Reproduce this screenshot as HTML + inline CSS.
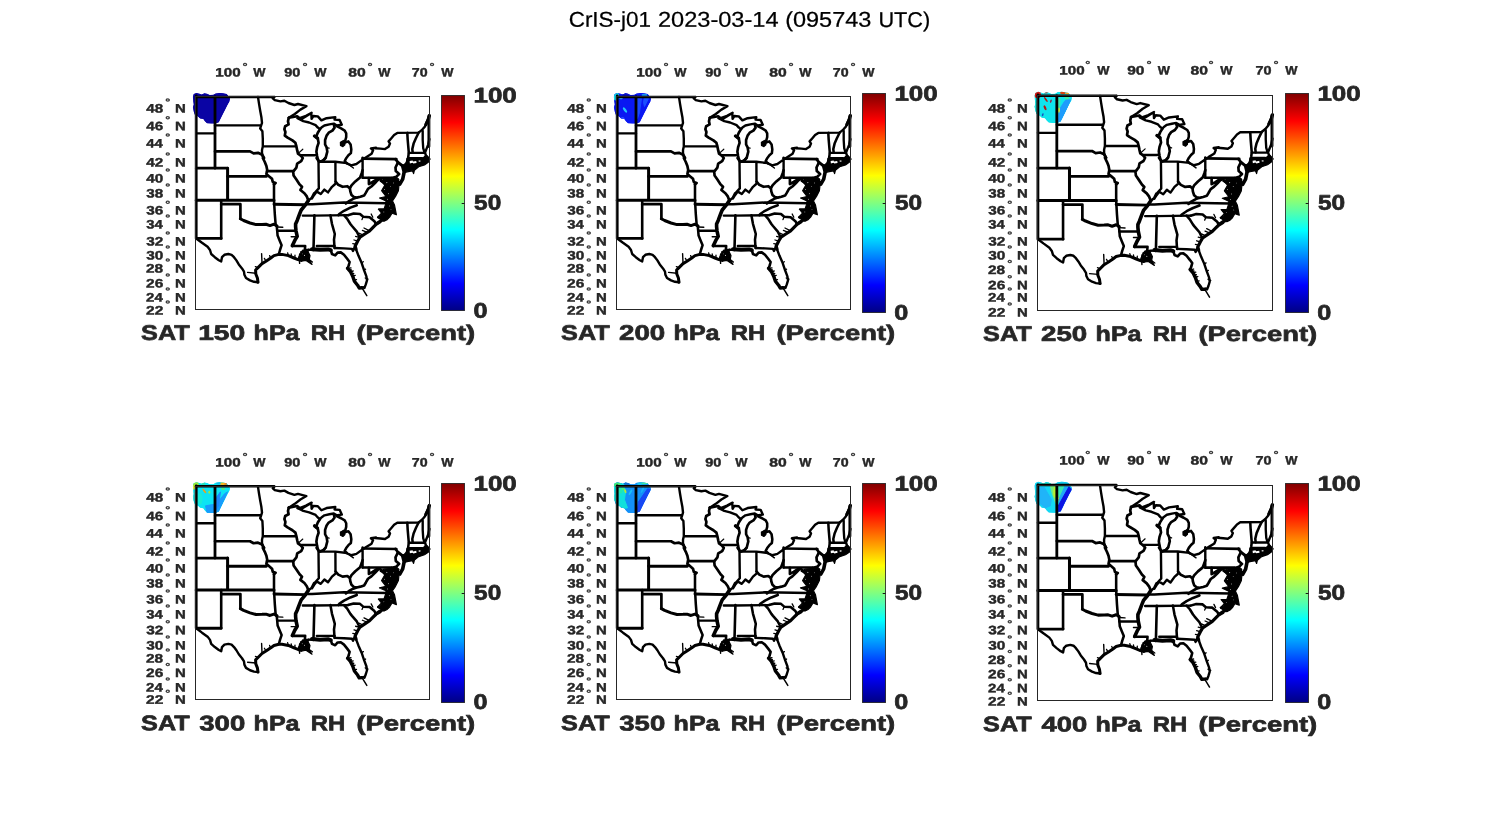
<!DOCTYPE html><html><head><meta charset="utf-8"><title>CrIS-j01 RH</title>
<style>html,body{margin:0;padding:0;background:#fff}svg{display:block;will-change:transform}text{font-family:"Liberation Sans",sans-serif;text-rendering:geometricPrecision}</style></head><body>
<svg width="1500" height="825" viewBox="0 0 1500 825">
<defs>
<filter id="gray" filterUnits="userSpaceOnUse" x="0" y="0" width="1500" height="825" color-interpolation-filters="sRGB"><feOffset dx="0" dy="0"/></filter>
<linearGradient id="jet" x1="0" y1="0" x2="0" y2="1"><stop offset="0" stop-color="#800000"/><stop offset="0.125" stop-color="#ff0000"/><stop offset="0.375" stop-color="#ffff00"/><stop offset="0.5" stop-color="#80ff80"/><stop offset="0.625" stop-color="#00ffff"/><stop offset="0.875" stop-color="#0000ff"/><stop offset="1" stop-color="#000083"/></linearGradient>
<clipPath id="bc"><path d="M192.9 96.7 L193.7 94.0 L196.4 92.9 L199.6 93.7 L201.7 94.5 L204.4 93.2 L207.0 93.7 L209.7 95.0 L213.4 94.8 L215.6 93.4 L219.8 92.9 L223.0 93.2 L226.8 94.0 L230.0 98.8 L229.4 101.4 L227.3 105.2 L225.2 109.4 L223.0 113.7 L220.9 118.0 L218.8 122.2 L215.6 123.6 L211.3 123.6 L207.0 123.3 L204.9 121.2 L203.3 119.0 L200.1 118.5 L198.0 116.4 L194.8 114.8 L193.7 111.6 L192.9 107.3 L193.7 104.6 L193.2 100.9Z" stroke="#000" stroke-width="1.6"/></clipPath>
<g id="map" fill="none" stroke="#000" stroke-linejoin="round" stroke-linecap="round">
<path stroke-width="1.2" d="M298.0 153.6 L302.8 149.2"/>
<path stroke-width="1.3" d="M326.6 147.6 L329.1 148.2 M369.6 230.8 L364.0 228.0 M367.2 232.4 L362.4 230.4 M363.2 235.2 L358.8 233.2 M360.0 237.6 L355.6 236.4 M358.0 241.2 L354.0 240.0 M356.4 244.4 L352.8 243.6 M348.0 268.4 L351.0 267.9 M350.0 271.8 L353.2 271.0 M352.0 276.2 L355.2 275.3 M353.8 280.2 L356.5 279.6 M349.0 270.0 L351.4 269.8 M351.2 274.0 L353.8 273.4 M361.6 262.8 L363.4 261.8 M364.0 270.0 L365.6 269.2 M365.2 278.0 L368.0 279.2 M288.4 255.6 L287.6 252.8 M291.6 257.0 L291.2 254.0 M294.8 258.4 L295.0 255.2 M298.0 259.6 L299.0 256.6 M266.0 261.2 L264.4 258.4 M270.8 258.0 L269.6 255.6 M258.0 267.6 L255.4 266.6 M304.4 254.0 L300.8 251.8 M307.6 252.4 L308.6 249.2 M309.2 259.6 L312.4 262.0 M381.6 213.2 L377.6 217.2 M384.0 209.2 L378.8 209.2 M380.8 218.8 L377.8 217.6 M372.8 217.2 L371.2 214.0 M363.2 216.8 L362.0 219.6"/>
<path stroke-width="1.4" d="M346.9 163.3 L353.4 168.0 M255.8 273.2 L247.6 272.4 M262.0 262.8 L261.6 253.6 M276.8 227.0 L282.8 227.3 M297.2 236.8 L291.2 236.8 M299.3 258.6 L299.6 263.4"/>
<path stroke-width="1.5" d="M362.0 287.8 L366.8 295.6"/>
<path stroke-width="2.35" d="M422.7 130.9 L422.7 140.0 L423.2 148.2 L424.6 152.7 M408.8 152.9 L424.6 152.9 M302.8 215.6 L314.0 215.6 L348.0 215.2 M316.4 158.0 L318.8 161.6 L322.4 160.8 L325.6 158.0 M316.8 246.0 L334.4 246.0"/>
<path stroke-width="2.4" d="M196.2 133.4 L215.0 133.4 M215.0 125.4 L261.0 125.4 M258.0 97.0 L259.0 103.6 L260.2 110.8 L261.4 117.2 L262.0 122.8 L261.0 126.0 L260.2 128.4 L262.4 131.2 L262.8 138.8 L262.8 146.4 L262.0 150.0 L262.0 153.2 L263.2 156.4 L264.0 158.0 M262.8 146.4 L295.4 146.4 M274.2 97.0 L272.8 98.4 L274.8 100.2 L280.4 101.4 L284.4 100.8 L288.4 103.0 L294.4 105.0 L298.0 104.0 L306.4 106.2 L300.4 109.6 L294.8 114.0 L288.8 117.8 M299.6 118.2 L306.0 115.8 L311.6 112.8 M300.8 155.2 L314.0 155.2 L316.7 155.1 M300.4 119.6 L305.4 116.7 L311.3 113.1 L311.6 118.9 L313.4 116.0 L317.8 116.4 L321.4 120.4 L326.6 118.2 L335.3 117.1 L334.6 119.6 L339.6 120.0 L341.8 124.7 L336.7 125.5 L333.8 123.6 L329.4 124.4 L324.4 125.5 L321.4 127.6 L320.0 129.1 M297.4 118.2 L300.4 119.6 L303.3 121.1 L309.1 122.5 L315.6 125.1 L317.8 127.6 L320.0 129.1 M318.5 161.8 L318.8 188.4 L315.2 192.4 L312.0 198.4 M319.3 161.8 L335.3 161.8 L346.9 163.1 M335.4 162.0 L335.5 182.0 M346.9 163.3 L351.3 165.4 L356.4 164.0 L361.4 160.4 L365.8 157.4 L371.6 153.8 L373.1 150.2 L370.9 148.4 L376.0 147.6 M362.6 157.6 L362.6 177.7 M375.0 148.2 L380.4 148.6 L385.0 149.1 L388.6 146.8 L390.0 143.6 L388.6 141.4 L391.4 138.2 L394.1 135.0 L397.3 132.9 L418.6 132.6 L422.3 129.6 L425.0 126.4 L426.8 121.8 L429.4 115.5 M429.4 139.1 L428.2 144.6 L426.4 149.1 L425.0 152.7 L425.9 155.4 L429.4 159.1 M314.0 193.2 L311.6 198.0 L308.4 200.4 M312.0 198.4 L314.0 195.2 L316.8 191.6 L320.8 194.0 L324.4 189.6 L328.0 192.4 L332.0 186.8 L335.2 184.0 M197.2 239.2 L202.0 242.8 L207.6 246.8 L210.0 250.0 L211.2 254.0 L214.8 257.2 L218.8 260.2 L221.2 261.4 L222.0 257.2 L224.4 254.8 L228.4 254.0 L231.6 254.8 L234.0 257.2 L236.4 260.4 L238.8 264.4 L242.0 268.4 L244.0 271.6 L244.4 274.8 L246.0 278.0 L250.0 280.4 L254.0 281.8 L258.0 282.2 M277.2 230.8 L295.6 230.8 M306.0 250.0 L314.0 249.6 M334.4 248.0 L344.0 248.4 L352.0 248.9 L353.0 251.0 L355.2 246.0 M356.0 249.2 L358.4 255.6 L361.6 262.8 L364.0 270.0 L366.4 276.4 L367.0 280.4 L365.8 284.4 L364.4 288.0 L363.2 287.2"/>
<path stroke-width="2.55" d="M336.7 126.2 L341.1 128.4 L344.7 130.6 L346.2 133.4 L346.2 137.1 L345.4 140.0 L342.6 142.2 L342.6 144.4 L345.4 142.2 L348.4 141.4 L350.6 144.4 L351.3 149.4 L350.9 153.1 L348.4 155.3 L346.2 158.2 L344.7 161.1 L346.9 163.3 M407.3 132.9 L407.7 140.0 L408.4 148.2 L408.8 152.7 L408.2 157.3 L407.3 160.9 L406.4 164.6 L405.0 168.2 M418.6 132.7 L415.9 138.2 L413.6 143.6 L412.3 149.1 L412.7 152.7 M362.6 177.7 L391.4 177.7 M306.0 204.2 L312.0 204.2 L344.0 202.5 L387.2 203.2 M274.0 183.2 L274.0 200.2 L274.8 214.0 L275.6 224.0 L276.8 226.8 L277.2 230.8 L277.6 235.6 L279.6 240.4 L281.6 245.2 L280.0 250.0 L278.8 254.4 M356.8 205.2 L350.4 207.6 L344.0 210.8 L339.2 214.0 L338.4 215.2 M348.0 215.2 L353.6 213.6 L360.0 214.0 L363.2 216.8 L369.6 217.2 L374.4 221.2 L376.0 224.0 M344.0 215.2 L347.2 218.8 L350.4 224.0 L352.0 226.0 L356.8 231.6 L359.2 236.4 M330.4 215.2 L332.0 224.0 L332.8 226.8 L334.8 234.0 L334.0 239.6 L334.4 246.0 L334.8 248.0 M292.0 246.0 L305.2 246.0 L304.8 250.0"/>
<path stroke-width="2.6" d="M288.8 117.8 L297.2 116.2 L299.6 118.2 M362.5 158.6 L396.4 159.1 M221.2 200.2 L221.2 238.4 M314.4 215.3 L313.6 246.0 L313.2 250.0 M330.8 250.2 L332.0 254.0 L335.2 255.4 L337.6 252.6 L340.8 252.4 L344.0 254.8 L347.2 258.8 L349.6 262.0 L348.8 265.2 L347.6 268.4"/>
<path stroke-width="2.65" d="M320.0 129.1 L317.8 132.7 L316.0 137.1 L317.8 138.6 L318.6 142.9 L317.1 147.3 L316.4 151.6 L317.1 156.0 L317.8 158.9 L319.3 161.8 M319.3 161.8 L323.6 160.4 L325.8 157.4 L327.3 151.6 L326.6 147.3 L325.1 144.4 L325.1 140.0 L326.6 135.6 L328.7 132.7 L332.4 130.6 L334.6 127.6 L333.8 124.7 M362.6 170.2 L361.7 173.2 L360.1 177.4 L355.3 181.4 L351.5 185.3 L349.9 188.4 M335.6 181.7 L338.3 184.8 L342.6 186.8 L347.4 186.2 L349.9 188.4 M349.9 188.4 L350.3 191.4 L351.5 195.0 L353.9 197.1 L356.8 197.6 M356.8 197.6 L360.4 196.8 L364.1 195.6 L365.9 192.6 L368.0 188.9 L371.4 186.5 L375.0 183.0 L377.4 180.4 L379.6 178.8 M368.9 178.0 L368.9 184.1 L372.6 182.0 L376.8 179.4 L379.6 178.8 L382.9 182.0 L385.9 185.3 M356.8 197.6 L353.2 198.8 L349.1 201.1 L345.9 203.5"/>
<path stroke-width="2.7" d="M215.0 151.4 L250.0 151.4 L253.6 153.4 L258.0 152.8 L261.6 154.4 L264.0 158.0 L262.8 158.0 L264.8 162.0 L266.4 166.0 L267.2 170.0 L266.4 174.0 L269.2 176.4 L272.0 178.8 L272.8 182.0 L275.6 183.0 L274.0 184.4 M288.8 117.8 L288.0 121.2 L288.6 124.4 L285.2 126.2 L284.4 129.2 L285.4 132.0 L284.8 135.6 L287.6 137.6 L292.4 140.4 L295.4 142.8 L296.4 146.4 L297.2 150.4 L298.0 153.6 L300.8 155.6 L302.8 158.0 L301.2 161.2 L297.2 163.6 L296.4 167.6 L293.2 171.6 L293.6 175.6 L296.4 179.6 L299.6 184.4 L302.0 186.8 L300.4 190.0 L304.4 193.2 L306.8 196.4 L308.4 200.4 M395.5 159.1 L398.0 162.4 L395.5 167.5 L395.8 171.1 L399.1 174.0 L396.2 176.9 L391.8 178.0 M196.2 168.2 L227.6 168.2 M221.2 204.2 L240.4 204.2 L240.4 218.8"/>
<path stroke-width="2.8" d="M196.2 96.0 L196.2 238.4 M215.0 97.0 L215.0 168.2 M267.2 171.2 L293.2 171.2 M196.2 238.4 L221.2 238.4"/>
<path stroke-width="2.9" d="M428.9 116.0 L428.9 146.5 M227.6 176.4 L266.4 176.4 M274.0 204.2 L305.6 204.8"/>
<path stroke-width="3.0" d="M408.2 158.6 L422.3 158.6 M398.0 162.4 L402.7 166.0 M227.6 168.2 L227.6 200.2 M196.2 200.2 L274.0 200.2 M240.4 218.8 L243.6 220.5 L250.0 223.0 L256.0 224.6 L262.0 224.5 L266.0 224.3 L270.0 225.6 L274.0 224.2 L277.0 226.0 M384.0 219.6 L380.0 221.2 L376.0 224.0 M258.0 282.2 L257.4 278.0 L255.8 274.0 L255.6 270.0 L258.0 267.6 L262.0 263.6 L266.0 261.2 L270.8 258.0 L274.0 255.6 L278.8 254.4 M278.8 254.4 L282.0 254.4 L288.4 255.6 L294.0 258.0 L298.0 259.6 L301.2 260.4"/>
<path stroke-width="3.2" d="M425.9 124.5 L428.2 120.0 L429.4 115.6 M380.0 222.0 L376.0 224.4 L372.8 227.6 L369.6 230.8 L364.8 234.0 L360.0 237.2 L357.6 241.2 L355.2 246.0 L356.0 249.2"/>
<path stroke-width="3.4" d="M314.6 136.0 L317.4 138.2 M347.6 268.4 L350.4 271.6 L352.8 276.4 L354.4 281.2 L357.6 285.2 L359.2 288.0 L362.0 287.8"/>
<path stroke-width="3.6" d="M308.4 200.4 L305.2 205.2 L301.2 210.0 L299.6 214.0 L297.2 220.4 L295.6 224.0 L295.6 226.8 L296.0 230.8 L297.2 236.4 L294.8 240.4 L292.4 245.6 M402.7 166.0 L404.2 171.8 L402.7 179.1 L399.8 184.2"/>
<path stroke-width="4.0" d="M312.0 249.2 L320.0 249.8 L328.0 249.4 L330.8 250.2"/>
<path fill="#000" stroke-width="1.2" d="M340.4 142.2 L342.6 141.1 L344.7 142.6 L344.9 144.7 L342.9 146.6 L340.5 145.4Z M402.7 166.0 L406.4 162.4 L407.1 158.4 L423.1 158.0 L426.0 155.1 L428.9 158.7 L428.9 161.8 L424.5 164.9 L418.7 166.8 L414.4 170.3 L413.6 173.6 L412.4 170.8 L407.1 171.8 L403.5 172.8Z M380.2 181.3 L383.8 179.3 L391.8 178.4 L396.2 177.2 L398.5 179.0 L399.8 182.0 L399.1 184.2 L398.4 190.7 L395.5 196.5 L392.5 200.9 L394.5 205.0 L396.4 214.8 L392.0 213.2 L389.6 217.2 L387.2 219.6 L384.0 221.2 L382.4 220.4 L377.6 217.2 L380.8 215.6 L381.6 213.2 L378.4 209.2 L384.0 209.2 L385.6 204.4 L386.0 200.9 L379.5 198.0 L386.0 196.5 L381.6 190.7 L385.3 184.2Z M299.6 254.0 L302.8 250.0 L307.6 250.8 L310.0 255.6 L309.2 259.6 L312.0 264.4 L306.0 260.4 L301.2 261.2 L298.8 258.0Z"/>
<path fill="#fff" stroke="none" d="M409.6 160.9 L412.6 160.5 L413.0 161.6 L416.2 160.9 L416.6 163.0 L413.4 163.6 L412.4 162.8 L409.9 163.4Z M418.6 160.6 L420.4 160.4 L420.6 161.6 L418.8 161.8Z M386.3 182.6 L386.9 182.0 L387.4 182.6 L386.9 183.2Z M384.1 189.4 L384.6 188.9 L385.1 189.4 L384.6 189.9Z M388.1 193.8 L388.6 193.3 L389.1 193.8 L388.6 194.3Z M389.9 186.3 L390.4 185.9 L390.8 186.3 L390.4 186.8Z M392.9 183.0 L393.4 182.6 L393.8 183.0 L393.4 183.4Z M387.1 199.2 L387.6 198.7 L388.1 199.2 L387.6 199.7Z M388.8 206.0 L389.3 205.5 L389.8 206.0 L389.3 206.5Z M383.4 212.0 L383.9 211.6 L384.3 212.0 L383.9 212.4Z M390.6 209.6 L391.0 209.2 L391.4 209.6 L391.0 210.0Z M399.1 180.6 L399.6 180.1 L400.1 180.6 L399.6 181.1Z M303.9 255.4 L304.5 254.8 L305.1 255.4 L304.5 256.0Z M301.8 253.9 L302.2 253.5 L302.6 253.9 L302.2 254.3Z"/>
</g></defs>
<rect width="1500" height="825" fill="#fff"/>
<g transform="matrix(1.00000 0 0 1.00000 0.00 0.00)"><g transform="translate(0 0)"><g clip-path="url(#bc)"><path d="M192.9 96.7 L193.7 94.0 L196.4 92.9 L199.6 93.7 L201.7 94.5 L204.4 93.2 L207.0 93.7 L209.7 95.0 L213.4 94.8 L215.6 93.4 L219.8 92.9 L223.0 93.2 L226.8 94.0 L230.0 98.8 L229.4 101.4 L227.3 105.2 L225.2 109.4 L223.0 113.7 L220.9 118.0 L218.8 122.2 L215.6 123.6 L211.3 123.6 L207.0 123.3 L204.9 121.2 L203.3 119.0 L200.1 118.5 L198.0 116.4 L194.8 114.8 L193.7 111.6 L192.9 107.3 L193.7 104.6 L193.2 100.9Z" fill="#0a04a4" stroke="#0a04a4" stroke-width="1.6" stroke-linejoin="round"/></g></g><use href="#map"/><path d="M196.2 96.96H274.2" stroke="#000" stroke-width="2.5" stroke-linecap="round"/></g>
<rect x="195.5" y="96.5" width="234.0" height="213.0" fill="none" stroke="#262626" stroke-width="1"/>
<rect x="441.5" y="95.5" width="23.0" height="215.0" fill="url(#jet)" stroke="#161616" stroke-opacity="0.8" stroke-width="1"/>
<path d="M461.7 203.5H464.5" stroke="#161616" stroke-width="1"/>
<g transform="matrix(1.00000 0 0 1.00000 421.00 0.00)"><g transform="translate(0 0)"><g clip-path="url(#bc)"><path d="M192.9 96.7 L193.7 94.0 L196.4 92.9 L199.6 93.7 L201.7 94.5 L204.4 93.2 L207.0 93.7 L209.7 95.0 L213.4 94.8 L215.6 93.4 L219.8 92.9 L223.0 93.2 L226.8 94.0 L230.0 98.8 L229.4 101.4 L227.3 105.2 L225.2 109.4 L223.0 113.7 L220.9 118.0 L218.8 122.2 L215.6 123.6 L211.3 123.6 L207.0 123.3 L204.9 121.2 L203.3 119.0 L200.1 118.5 L198.0 116.4 L194.8 114.8 L193.7 111.6 L192.9 107.3 L193.7 104.6 L193.2 100.9Z" fill="#0a18f2" stroke="#0a18f2" stroke-width="1.6" stroke-linejoin="round"/><ellipse cx="195.0" cy="96.0" rx="3.0" ry="4.5" fill="#12d8e8"/><ellipse cx="204.0" cy="110.0" rx="1.2" ry="3.2" fill="#22c8f8" transform="rotate(-35 204.0 110.0)"/><ellipse cx="200.0" cy="98.5" rx="1.8" ry="0.7" fill="#40b8ff"/><path d="M216.5 98.5 L220.5 98.5 L218.5 112.5 L216.5 118.5 L215.5 110.5Z" fill="#1a48ff" stroke="#1a48ff" stroke-width="1" stroke-linejoin="round"/><path d="M223.5 96.5 L227.5 98.5 L223.5 106.5 L222.5 102.5Z" fill="#1c50ff" stroke="#1c50ff" stroke-width="1" stroke-linejoin="round"/><ellipse cx="223.5" cy="95.0" rx="3" ry="1.3" fill="#1490f0"/><ellipse cx="204.5" cy="94.7" rx="3.5" ry="1.8" fill="#0a10c0"/><ellipse cx="201.5" cy="118.5" rx="2" ry="1.6" fill="#3050ff"/></g></g><use href="#map"/><path d="M196.2 96.96H274.2" stroke="#000" stroke-width="2.5" stroke-linecap="round"/></g>
<rect x="616.5" y="96.5" width="234.0" height="213.0" fill="none" stroke="#262626" stroke-width="1"/>
<rect x="862.5" y="93.5" width="23.0" height="219.0" fill="url(#jet)" stroke="#161616" stroke-opacity="0.8" stroke-width="1"/>
<path d="M882.7 203.5H885.5" stroke="#161616" stroke-width="1"/>
<g transform="matrix(1.00587 0 0 1.01260 840.56 -2.24)"><g transform="translate(0 0)"><g clip-path="url(#bc)"><path d="M192.9 96.7 L193.7 94.0 L196.4 92.9 L199.6 93.7 L201.7 94.5 L204.4 93.2 L207.0 93.7 L209.7 95.0 L213.4 94.8 L215.6 93.4 L219.8 92.9 L223.0 93.2 L226.8 94.0 L230.0 98.8 L229.4 101.4 L227.3 105.2 L225.2 109.4 L223.0 113.7 L220.9 118.0 L218.8 122.2 L215.6 123.6 L211.3 123.6 L207.0 123.3 L204.9 121.2 L203.3 119.0 L200.1 118.5 L198.0 116.4 L194.8 114.8 L193.7 111.6 L192.9 107.3 L193.7 104.6 L193.2 100.9Z" fill="#10e4ec" stroke="#10e4ec" stroke-width="1.6" stroke-linejoin="round"/><ellipse cx="196.0" cy="95.5" rx="3.2" ry="3.8" fill="#dc1410"/><ellipse cx="204.0" cy="93.5" rx="2.4" ry="1.0" fill="#b84a3a"/><ellipse cx="221.0" cy="93.9" rx="2.8" ry="1.5" fill="#d8400c"/><ellipse cx="225.5" cy="94.3" rx="1.8" ry="1.2" fill="#f8a020"/><ellipse cx="204.1" cy="100.5" rx="0.9" ry="3.0" fill="#b01c14" transform="rotate(-35 204.1 100.5)"/><ellipse cx="209.1" cy="102.1" rx="0.8" ry="1.8" fill="#8c3050" transform="rotate(20 209.1 102.1)"/><ellipse cx="203.3" cy="108.7" rx="1.1" ry="2.6" fill="#b01a10" transform="rotate(-25 203.3 108.7)"/><ellipse cx="201.0" cy="115.5" rx="0.8" ry="1.5" fill="#1c50c0" transform="rotate(20 201.0 115.5)"/><path d="M217.5 110.5 L222.0 103.5 L224.5 100.5 L228.5 101.0 L225.0 109.5 L220.5 119.5 L218.5 122.5 L216.5 122.5Z" fill="#1e9cfc" stroke="#1e9cfc" stroke-width="1" stroke-linejoin="round"/><path d="M216.0 99.5 L218.3 99.5 L217.5 111.5 L216.0 112.5Z" fill="#38e8b0" stroke="#38e8b0" stroke-width="1" stroke-linejoin="round"/><ellipse cx="217.1" cy="111.0" rx="0.8" ry="2.6" fill="#f0f020"/><ellipse cx="225.0" cy="98.9" rx="2.4" ry="1.6" fill="#40e8a0"/><ellipse cx="194.3" cy="107.5" rx="1.6" ry="6" fill="#22d8d0"/></g></g><use href="#map"/><path d="M196.2 96.76H274.2" stroke="#000" stroke-width="2.5" stroke-linecap="round"/></g>
<rect x="1037.5" y="95.5" width="235.0" height="215.0" fill="none" stroke="#262626" stroke-width="1"/>
<rect x="1285.5" y="93.5" width="23.0" height="219.0" fill="url(#jet)" stroke="#161616" stroke-opacity="0.8" stroke-width="1"/>
<path d="M1305.7 203.5H1308.5" stroke="#161616" stroke-width="1"/>
<g transform="matrix(1.00000 0 0 1.00000 0.00 389.85)"><g transform="translate(0 -0.5)"><g clip-path="url(#bc)"><path d="M192.9 96.7 L193.7 94.0 L196.4 92.9 L199.6 93.7 L201.7 94.5 L204.4 93.2 L207.0 93.7 L209.7 95.0 L213.4 94.8 L215.6 93.4 L219.8 92.9 L223.0 93.2 L226.8 94.0 L230.0 98.8 L229.4 101.4 L227.3 105.2 L225.2 109.4 L223.0 113.7 L220.9 118.0 L218.8 122.2 L215.6 123.6 L211.3 123.6 L207.0 123.3 L204.9 121.2 L203.3 119.0 L200.1 118.5 L198.0 116.4 L194.8 114.8 L193.7 111.6 L192.9 107.3 L193.7 104.6 L193.2 100.9Z" fill="#0ce4f4" stroke="#0ce4f4" stroke-width="1.6" stroke-linejoin="round"/><ellipse cx="195.7" cy="94.9" rx="3.0" ry="2.8" fill="#98e838"/><ellipse cx="193.9" cy="98.1" rx="1.2" ry="2.2" fill="#d8e830"/><ellipse cx="203.0" cy="94.3" rx="2.2" ry="1.2" fill="#30e0b0"/><ellipse cx="222.5" cy="94.3" rx="3.0" ry="1.3" fill="#f8b818"/><ellipse cx="225.7" cy="94.7" rx="1.6" ry="1.0" fill="#f08020"/><ellipse cx="218.5" cy="93.9" rx="2.4" ry="1.2" fill="#18b8e8"/><ellipse cx="204.3" cy="101.5" rx="0.9" ry="3.0" fill="#e8a020" transform="rotate(-38 204.3 101.5)"/><ellipse cx="209.3" cy="102.9" rx="1.0" ry="1.4" fill="#98ec40"/><ellipse cx="223.1" cy="99.3" rx="1.8" ry="1.2" fill="#58e870"/><path d="M205.5 116.5 L216.5 114.5 L224.5 104.5 L227.5 102.5 L219.0 122.0 L215.5 123.5 L207.0 123.3Z" fill="#189cfc" stroke="#189cfc" stroke-width="1" stroke-linejoin="round"/><path d="M216.0 108.5 L220.5 102.5 L218.5 116.5 L216.0 120.5Z" fill="#1c88fc" stroke="#1c88fc" stroke-width="1" stroke-linejoin="round"/><ellipse cx="200.0" cy="109.5" rx="2.6" ry="6" fill="#18ecd8"/><ellipse cx="194.1" cy="107.5" rx="1.4" ry="5.5" fill="#2cd8d8"/></g></g><use href="#map"/><path d="M196.2 96.36H274.2" stroke="#000" stroke-width="2.5" stroke-linecap="round"/></g>
<rect x="195.5" y="486.5" width="234.0" height="213.0" fill="none" stroke="#262626" stroke-width="1"/>
<rect x="441.5" y="483.5" width="23.0" height="219.0" fill="url(#jet)" stroke="#161616" stroke-opacity="0.8" stroke-width="1"/>
<path d="M461.7 593.5H464.5" stroke="#161616" stroke-width="1"/>
<g transform="matrix(1.00000 0 0 1.00000 421.00 389.85)"><g transform="translate(0 -0.5)"><g clip-path="url(#bc)"><path d="M192.9 96.7 L193.7 94.0 L196.4 92.9 L199.6 93.7 L201.7 94.5 L204.4 93.2 L207.0 93.7 L209.7 95.0 L213.4 94.8 L215.6 93.4 L219.8 92.9 L223.0 93.2 L226.8 94.0 L230.0 98.8 L229.4 101.4 L227.3 105.2 L225.2 109.4 L223.0 113.7 L220.9 118.0 L218.8 122.2 L215.6 123.6 L211.3 123.6 L207.0 123.3 L204.9 121.2 L203.3 119.0 L200.1 118.5 L198.0 116.4 L194.8 114.8 L193.7 111.6 L192.9 107.3 L193.7 104.6 L193.2 100.9Z" fill="#1490f8" stroke="#1490f8" stroke-width="1.6" stroke-linejoin="round"/><path d="M192.9 96.5 L194.5 93.5 L202.5 94.5 L204.5 102.5 L203.5 110.5 L206.5 118.5 L203.3 119.0 L198.0 116.4 L193.7 111.6 L192.9 104.5Z" fill="#10e0dc" stroke="#10e0dc" stroke-width="1" stroke-linejoin="round"/><ellipse cx="196.0" cy="95.1" rx="3.4" ry="2.2" fill="#40e878"/><ellipse cx="199.0" cy="101.0" rx="3.0" ry="3.2" fill="#20e8b0"/><ellipse cx="204.3" cy="101.7" rx="1.0" ry="2.2" fill="#b0e838" transform="rotate(-20 204.3 101.7)"/><ellipse cx="202.0" cy="99.5" rx="1.5" ry="1.5" fill="#48ec80"/><ellipse cx="206.0" cy="94.1" rx="3.0" ry="1.6" fill="#1070d0"/><ellipse cx="222.5" cy="93.9" rx="4.5" ry="1.1" fill="#38e8a0"/><ellipse cx="218.5" cy="94.5" rx="2.5" ry="1.2" fill="#18c8f0"/><path d="M217.5 112.5 L226.5 99.5 L229.5 100.0 L219.0 122.0 L216.0 122.5Z" fill="#1848f4" stroke="#1848f4" stroke-width="1" stroke-linejoin="round"/><ellipse cx="209.5" cy="103.0" rx="1.0" ry="3.2" fill="#18c0f8" transform="rotate(30 209.5 103.0)"/><ellipse cx="221.5" cy="100.5" rx="1.0" ry="3.5" fill="#18b0f8" transform="rotate(25 221.5 100.5)"/><ellipse cx="194.1" cy="107.5" rx="1.4" ry="5.5" fill="#20d8d0"/></g></g><use href="#map"/><path d="M196.2 96.46H274.2" stroke="#000" stroke-width="2.5" stroke-linecap="round"/></g>
<rect x="616.5" y="486.5" width="234.0" height="213.0" fill="none" stroke="#262626" stroke-width="1"/>
<rect x="862.5" y="483.5" width="23.0" height="219.0" fill="url(#jet)" stroke="#161616" stroke-opacity="0.8" stroke-width="1"/>
<path d="M882.7 593.5H885.5" stroke="#161616" stroke-width="1"/>
<g transform="matrix(1.00587 0 0 1.01260 840.56 387.71)"><g transform="translate(0 0)"><g clip-path="url(#bc)"><path d="M192.9 96.7 L193.7 94.0 L196.4 92.9 L199.6 93.7 L201.7 94.5 L204.4 93.2 L207.0 93.7 L209.7 95.0 L213.4 94.8 L215.6 93.4 L219.8 92.9 L223.0 93.2 L226.8 94.0 L230.0 98.8 L229.4 101.4 L227.3 105.2 L225.2 109.4 L223.0 113.7 L220.9 118.0 L218.8 122.2 L215.6 123.6 L211.3 123.6 L207.0 123.3 L204.9 121.2 L203.3 119.0 L200.1 118.5 L198.0 116.4 L194.8 114.8 L193.7 111.6 L192.9 107.3 L193.7 104.6 L193.2 100.9Z" fill="#14d8f4" stroke="#14d8f4" stroke-width="1.6" stroke-linejoin="round"/><path d="M198.0 98.5 L202.5 98.5 L209.5 110.5 L208.5 116.5 L203.5 118.5 L198.5 114.5Z" fill="#20b4f8" stroke="#20b4f8" stroke-width="1" stroke-linejoin="round"/><path d="M208.5 96.5 L215.5 96.5 L216.0 110.5 L214.0 114.5 L210.5 104.5Z" fill="#70ec80" stroke="#70ec80" stroke-width="1" stroke-linejoin="round"/><ellipse cx="213.0" cy="103.0" rx="1.6" ry="5.5" fill="#b4f030"/><ellipse cx="216.9" cy="109.0" rx="0.8" ry="3.2" fill="#e8f020"/><path d="M216.3 96.5 L223.5 96.5 L220.5 104.5 L217.0 108.5Z" fill="#38e8b0" stroke="#38e8b0" stroke-width="1" stroke-linejoin="round"/><path d="M223.5 96.5 L227.5 98.0 L218.5 115.5 L217.0 110.5Z" fill="#20a8f8" stroke="#20a8f8" stroke-width="1" stroke-linejoin="round"/><path d="M227.0 98.0 L230.0 100.5 L219.5 122.0 L216.5 122.0 L216.5 116.5Z" fill="#0c14e4" stroke="#0c14e4" stroke-width="1" stroke-linejoin="round"/><ellipse cx="221.5" cy="93.9" rx="5" ry="1.3" fill="#14c8ec"/><ellipse cx="194.1" cy="106.5" rx="1.5" ry="6" fill="#28d0e0"/><ellipse cx="204.5" cy="94.7" rx="6" ry="1.0" fill="#20d8c0"/></g></g><use href="#map"/><path d="M196.2 96.06H274.2" stroke="#000" stroke-width="2.5" stroke-linecap="round"/></g>
<rect x="1037.5" y="485.5" width="235.0" height="215.0" fill="none" stroke="#262626" stroke-width="1"/>
<rect x="1285.5" y="483.5" width="23.0" height="219.0" fill="url(#jet)" stroke="#161616" stroke-opacity="0.8" stroke-width="1"/>
<path d="M1305.7 593.5H1308.5" stroke="#161616" stroke-width="1"/>
<g filter="url(#gray)"><text y="26.82" font-size="21.4" fill="#000" stroke="#000" stroke-width="0.25" stroke-linejoin="round" transform="rotate(0.03 750 27)"><tspan x="568.69" textLength="82.29" lengthAdjust="spacingAndGlyphs">CrIS-j01</tspan> <tspan x="657.94" textLength="120.63" lengthAdjust="spacingAndGlyphs">2023-03-14</tspan> <tspan x="785.17" textLength="86.24" lengthAdjust="spacingAndGlyphs">(095743</tspan> <tspan x="878.45" textLength="51.77" lengthAdjust="spacingAndGlyphs">UTC)</tspan></text>
<text y="102.60" font-size="21.2" font-weight="700" fill="#262626" stroke="#262626" stroke-width="0.7" stroke-linejoin="round" transform="rotate(0.03 484 103)"><tspan x="473.51" textLength="43.30" lengthAdjust="spacingAndGlyphs">100</tspan></text>
<text y="209.80" font-size="21.2" font-weight="700" fill="#262626" stroke="#262626" stroke-width="0.7" stroke-linejoin="round" transform="rotate(0.03 484 210)"><tspan x="474.10" textLength="27.15" lengthAdjust="spacingAndGlyphs">50</tspan></text>
<text y="317.70" font-size="21.2" font-weight="700" fill="#262626" stroke="#262626" stroke-width="0.7" stroke-linejoin="round" transform="rotate(0.03 484 318)"><tspan x="473.45" textLength="14.03" lengthAdjust="spacingAndGlyphs">0</tspan></text>
<text y="76.60" font-size="12.2" font-weight="700" fill="#262626" stroke="#262626" stroke-width="0.4" stroke-linejoin="round" transform="rotate(0.03 236 77)"><tspan x="215.24" textLength="25.38" lengthAdjust="spacingAndGlyphs">100</tspan><tspan x="242.47" y="70.03" textLength="5.05" lengthAdjust="spacingAndGlyphs" font-size="10.2" stroke-width="0.25">°</tspan> <tspan x="253.19" y="76.60" textLength="12.23" lengthAdjust="spacingAndGlyphs">W</tspan></text>
<text y="76.60" font-size="12.2" font-weight="700" fill="#262626" stroke="#262626" stroke-width="0.4" stroke-linejoin="round" transform="rotate(0.03 304 77)"><tspan x="284.19" textLength="16.20" lengthAdjust="spacingAndGlyphs">90</tspan><tspan x="302.47" y="70.03" textLength="5.05" lengthAdjust="spacingAndGlyphs" font-size="10.2" stroke-width="0.25">°</tspan> <tspan x="314.19" y="76.60" textLength="12.23" lengthAdjust="spacingAndGlyphs">W</tspan></text>
<text y="76.60" font-size="12.2" font-weight="700" fill="#262626" stroke="#262626" stroke-width="0.4" stroke-linejoin="round" transform="rotate(0.03 368 77)"><tspan x="348.20" textLength="17.44" lengthAdjust="spacingAndGlyphs">80</tspan><tspan x="367.47" y="70.03" textLength="5.05" lengthAdjust="spacingAndGlyphs" font-size="10.2" stroke-width="0.25">°</tspan> <tspan x="378.19" y="76.60" textLength="12.23" lengthAdjust="spacingAndGlyphs">W</tspan></text>
<text y="76.60" font-size="12.2" font-weight="700" fill="#262626" stroke="#262626" stroke-width="0.4" stroke-linejoin="round" transform="rotate(0.03 432 77)"><tspan x="411.79" textLength="15.79" lengthAdjust="spacingAndGlyphs">70</tspan><tspan x="429.47" y="70.03" textLength="5.05" lengthAdjust="spacingAndGlyphs" font-size="10.2" stroke-width="0.25">°</tspan> <tspan x="441.19" y="76.60" textLength="12.23" lengthAdjust="spacingAndGlyphs">W</tspan></text>
<text y="112.50" font-size="12.2" font-weight="700" fill="#262626" stroke="#262626" stroke-width="0.4" stroke-linejoin="round" transform="rotate(0.03 165 113)"><tspan x="146.37" textLength="16.79" lengthAdjust="spacingAndGlyphs">48</tspan><tspan x="165.37" y="105.53" textLength="5.05" lengthAdjust="spacingAndGlyphs" font-size="10.2" stroke-width="0.25">°</tspan> <tspan x="174.90" y="112.50" textLength="10.81" lengthAdjust="spacingAndGlyphs">N</tspan></text>
<text y="130.20" font-size="12.2" font-weight="700" fill="#262626" stroke="#262626" stroke-width="0.4" stroke-linejoin="round" transform="rotate(0.03 165 130)"><tspan x="146.37" textLength="16.88" lengthAdjust="spacingAndGlyphs">46</tspan><tspan x="165.37" y="123.23" textLength="5.05" lengthAdjust="spacingAndGlyphs" font-size="10.2" stroke-width="0.25">°</tspan> <tspan x="174.90" y="130.20" textLength="10.81" lengthAdjust="spacingAndGlyphs">N</tspan></text>
<text y="147.40" font-size="12.2" font-weight="700" fill="#262626" stroke="#262626" stroke-width="0.4" stroke-linejoin="round" transform="rotate(0.03 165 148)"><tspan x="146.38" textLength="16.40" lengthAdjust="spacingAndGlyphs">44</tspan><tspan x="165.37" y="140.43" textLength="5.05" lengthAdjust="spacingAndGlyphs" font-size="10.2" stroke-width="0.25">°</tspan> <tspan x="174.90" y="147.40" textLength="10.81" lengthAdjust="spacingAndGlyphs">N</tspan></text>
<text y="166.50" font-size="12.2" font-weight="700" fill="#262626" stroke="#262626" stroke-width="0.4" stroke-linejoin="round" transform="rotate(0.03 165 167)"><tspan x="146.37" textLength="16.94" lengthAdjust="spacingAndGlyphs">42</tspan><tspan x="165.37" y="159.53" textLength="5.05" lengthAdjust="spacingAndGlyphs" font-size="10.2" stroke-width="0.25">°</tspan> <tspan x="174.90" y="166.50" textLength="10.81" lengthAdjust="spacingAndGlyphs">N</tspan></text>
<text y="182.50" font-size="12.2" font-weight="700" fill="#262626" stroke="#262626" stroke-width="0.4" stroke-linejoin="round" transform="rotate(0.03 165 183)"><tspan x="146.37" textLength="16.96" lengthAdjust="spacingAndGlyphs">40</tspan><tspan x="165.37" y="175.53" textLength="5.05" lengthAdjust="spacingAndGlyphs" font-size="10.2" stroke-width="0.25">°</tspan> <tspan x="174.90" y="182.50" textLength="10.81" lengthAdjust="spacingAndGlyphs">N</tspan></text>
<text y="197.50" font-size="12.2" font-weight="700" fill="#262626" stroke="#262626" stroke-width="0.4" stroke-linejoin="round" transform="rotate(0.03 165 198)"><tspan x="146.25" textLength="16.92" lengthAdjust="spacingAndGlyphs">38</tspan><tspan x="165.37" y="190.53" textLength="5.05" lengthAdjust="spacingAndGlyphs" font-size="10.2" stroke-width="0.25">°</tspan> <tspan x="174.90" y="197.50" textLength="10.81" lengthAdjust="spacingAndGlyphs">N</tspan></text>
<text y="214.60" font-size="12.2" font-weight="700" fill="#262626" stroke="#262626" stroke-width="0.4" stroke-linejoin="round" transform="rotate(0.03 165 215)"><tspan x="146.25" textLength="17.00" lengthAdjust="spacingAndGlyphs">36</tspan><tspan x="165.37" y="207.63" textLength="5.05" lengthAdjust="spacingAndGlyphs" font-size="10.2" stroke-width="0.25">°</tspan> <tspan x="174.90" y="214.60" textLength="10.81" lengthAdjust="spacingAndGlyphs">N</tspan></text>
<text y="228.40" font-size="12.2" font-weight="700" fill="#262626" stroke="#262626" stroke-width="0.4" stroke-linejoin="round" transform="rotate(0.03 165 229)"><tspan x="146.26" textLength="16.52" lengthAdjust="spacingAndGlyphs">34</tspan><tspan x="165.37" y="221.43" textLength="5.05" lengthAdjust="spacingAndGlyphs" font-size="10.2" stroke-width="0.25">°</tspan> <tspan x="174.90" y="228.40" textLength="10.81" lengthAdjust="spacingAndGlyphs">N</tspan></text>
<text y="245.40" font-size="12.2" font-weight="700" fill="#262626" stroke="#262626" stroke-width="0.4" stroke-linejoin="round" transform="rotate(0.03 165 246)"><tspan x="146.25" textLength="17.07" lengthAdjust="spacingAndGlyphs">32</tspan><tspan x="165.37" y="238.43" textLength="5.05" lengthAdjust="spacingAndGlyphs" font-size="10.2" stroke-width="0.25">°</tspan> <tspan x="174.90" y="245.40" textLength="10.81" lengthAdjust="spacingAndGlyphs">N</tspan></text>
<text y="259.40" font-size="12.2" font-weight="700" fill="#262626" stroke="#262626" stroke-width="0.4" stroke-linejoin="round" transform="rotate(0.03 165 260)"><tspan x="146.25" textLength="17.08" lengthAdjust="spacingAndGlyphs">30</tspan><tspan x="165.37" y="252.43" textLength="5.05" lengthAdjust="spacingAndGlyphs" font-size="10.2" stroke-width="0.25">°</tspan> <tspan x="174.90" y="259.40" textLength="10.81" lengthAdjust="spacingAndGlyphs">N</tspan></text>
<text y="272.50" font-size="12.2" font-weight="700" fill="#262626" stroke="#262626" stroke-width="0.4" stroke-linejoin="round" transform="rotate(0.03 165 273)"><tspan x="146.07" textLength="17.11" lengthAdjust="spacingAndGlyphs">28</tspan><tspan x="165.37" y="265.53" textLength="5.05" lengthAdjust="spacingAndGlyphs" font-size="10.2" stroke-width="0.25">°</tspan> <tspan x="174.90" y="272.50" textLength="10.81" lengthAdjust="spacingAndGlyphs">N</tspan></text>
<text y="287.50" font-size="12.2" font-weight="700" fill="#262626" stroke="#262626" stroke-width="0.4" stroke-linejoin="round" transform="rotate(0.03 165 288)"><tspan x="146.06" textLength="17.20" lengthAdjust="spacingAndGlyphs">26</tspan><tspan x="165.37" y="280.53" textLength="5.05" lengthAdjust="spacingAndGlyphs" font-size="10.2" stroke-width="0.25">°</tspan> <tspan x="174.90" y="287.50" textLength="10.81" lengthAdjust="spacingAndGlyphs">N</tspan></text>
<text y="301.50" font-size="12.2" font-weight="700" fill="#262626" stroke="#262626" stroke-width="0.4" stroke-linejoin="round" transform="rotate(0.03 165 302)"><tspan x="146.08" textLength="16.70" lengthAdjust="spacingAndGlyphs">24</tspan><tspan x="165.37" y="294.53" textLength="5.05" lengthAdjust="spacingAndGlyphs" font-size="10.2" stroke-width="0.25">°</tspan> <tspan x="174.90" y="301.50" textLength="10.81" lengthAdjust="spacingAndGlyphs">N</tspan></text>
<text y="314.50" font-size="12.2" font-weight="700" fill="#262626" stroke="#262626" stroke-width="0.4" stroke-linejoin="round" transform="rotate(0.03 165 315)"><tspan x="146.06" textLength="17.26" lengthAdjust="spacingAndGlyphs">22</tspan><tspan x="165.37" y="307.53" textLength="5.05" lengthAdjust="spacingAndGlyphs" font-size="10.2" stroke-width="0.25">°</tspan> <tspan x="174.90" y="314.50" textLength="10.81" lengthAdjust="spacingAndGlyphs">N</tspan></text>
<text y="340.45" font-size="21.2" font-weight="700" fill="#262626" stroke="#262626" stroke-width="0.7" stroke-linejoin="round" transform="rotate(0.03 308 341)"><tspan x="141.12" textLength="48.60" lengthAdjust="spacingAndGlyphs">SAT</tspan> <tspan x="198.17" textLength="47.03" lengthAdjust="spacingAndGlyphs">150</tspan> <tspan x="253.60" textLength="45.89" lengthAdjust="spacingAndGlyphs">hPa</tspan> <tspan x="310.75" textLength="34.51" lengthAdjust="spacingAndGlyphs">RH</tspan> <tspan x="356.49" textLength="118.73" lengthAdjust="spacingAndGlyphs">(Percent)</tspan></text>
<text y="100.80" font-size="21.2" font-weight="700" fill="#262626" stroke="#262626" stroke-width="0.7" stroke-linejoin="round" transform="rotate(0.03 905 101)"><tspan x="894.41" textLength="43.30" lengthAdjust="spacingAndGlyphs">100</tspan></text>
<text y="209.80" font-size="21.2" font-weight="700" fill="#262626" stroke="#262626" stroke-width="0.7" stroke-linejoin="round" transform="rotate(0.03 905 210)"><tspan x="895.00" textLength="27.15" lengthAdjust="spacingAndGlyphs">50</tspan></text>
<text y="319.80" font-size="21.2" font-weight="700" fill="#262626" stroke="#262626" stroke-width="0.7" stroke-linejoin="round" transform="rotate(0.03 905 320)"><tspan x="894.35" textLength="14.03" lengthAdjust="spacingAndGlyphs">0</tspan></text>
<text y="76.60" font-size="12.2" font-weight="700" fill="#262626" stroke="#262626" stroke-width="0.4" stroke-linejoin="round" transform="rotate(0.03 657 77)"><tspan x="636.24" textLength="25.38" lengthAdjust="spacingAndGlyphs">100</tspan><tspan x="663.47" y="70.03" textLength="5.05" lengthAdjust="spacingAndGlyphs" font-size="10.2" stroke-width="0.25">°</tspan> <tspan x="674.19" y="76.60" textLength="12.23" lengthAdjust="spacingAndGlyphs">W</tspan></text>
<text y="76.60" font-size="12.2" font-weight="700" fill="#262626" stroke="#262626" stroke-width="0.4" stroke-linejoin="round" transform="rotate(0.03 726 77)"><tspan x="705.19" textLength="16.20" lengthAdjust="spacingAndGlyphs">90</tspan><tspan x="723.47" y="70.03" textLength="5.05" lengthAdjust="spacingAndGlyphs" font-size="10.2" stroke-width="0.25">°</tspan> <tspan x="735.19" y="76.60" textLength="12.23" lengthAdjust="spacingAndGlyphs">W</tspan></text>
<text y="76.60" font-size="12.2" font-weight="700" fill="#262626" stroke="#262626" stroke-width="0.4" stroke-linejoin="round" transform="rotate(0.03 790 77)"><tspan x="769.20" textLength="17.44" lengthAdjust="spacingAndGlyphs">80</tspan><tspan x="788.47" y="70.03" textLength="5.05" lengthAdjust="spacingAndGlyphs" font-size="10.2" stroke-width="0.25">°</tspan> <tspan x="799.19" y="76.60" textLength="12.23" lengthAdjust="spacingAndGlyphs">W</tspan></text>
<text y="76.60" font-size="12.2" font-weight="700" fill="#262626" stroke="#262626" stroke-width="0.4" stroke-linejoin="round" transform="rotate(0.03 853 77)"><tspan x="832.79" textLength="15.79" lengthAdjust="spacingAndGlyphs">70</tspan><tspan x="850.47" y="70.03" textLength="5.05" lengthAdjust="spacingAndGlyphs" font-size="10.2" stroke-width="0.25">°</tspan> <tspan x="862.19" y="76.60" textLength="12.23" lengthAdjust="spacingAndGlyphs">W</tspan></text>
<text y="112.50" font-size="12.2" font-weight="700" fill="#262626" stroke="#262626" stroke-width="0.4" stroke-linejoin="round" transform="rotate(0.03 586 113)"><tspan x="567.37" textLength="16.79" lengthAdjust="spacingAndGlyphs">48</tspan><tspan x="586.37" y="105.53" textLength="5.05" lengthAdjust="spacingAndGlyphs" font-size="10.2" stroke-width="0.25">°</tspan> <tspan x="595.90" y="112.50" textLength="10.81" lengthAdjust="spacingAndGlyphs">N</tspan></text>
<text y="130.20" font-size="12.2" font-weight="700" fill="#262626" stroke="#262626" stroke-width="0.4" stroke-linejoin="round" transform="rotate(0.03 586 130)"><tspan x="567.37" textLength="16.88" lengthAdjust="spacingAndGlyphs">46</tspan><tspan x="586.37" y="123.23" textLength="5.05" lengthAdjust="spacingAndGlyphs" font-size="10.2" stroke-width="0.25">°</tspan> <tspan x="595.90" y="130.20" textLength="10.81" lengthAdjust="spacingAndGlyphs">N</tspan></text>
<text y="147.40" font-size="12.2" font-weight="700" fill="#262626" stroke="#262626" stroke-width="0.4" stroke-linejoin="round" transform="rotate(0.03 586 148)"><tspan x="567.38" textLength="16.40" lengthAdjust="spacingAndGlyphs">44</tspan><tspan x="586.37" y="140.43" textLength="5.05" lengthAdjust="spacingAndGlyphs" font-size="10.2" stroke-width="0.25">°</tspan> <tspan x="595.90" y="147.40" textLength="10.81" lengthAdjust="spacingAndGlyphs">N</tspan></text>
<text y="166.50" font-size="12.2" font-weight="700" fill="#262626" stroke="#262626" stroke-width="0.4" stroke-linejoin="round" transform="rotate(0.03 586 167)"><tspan x="567.37" textLength="16.94" lengthAdjust="spacingAndGlyphs">42</tspan><tspan x="586.37" y="159.53" textLength="5.05" lengthAdjust="spacingAndGlyphs" font-size="10.2" stroke-width="0.25">°</tspan> <tspan x="595.90" y="166.50" textLength="10.81" lengthAdjust="spacingAndGlyphs">N</tspan></text>
<text y="182.50" font-size="12.2" font-weight="700" fill="#262626" stroke="#262626" stroke-width="0.4" stroke-linejoin="round" transform="rotate(0.03 586 183)"><tspan x="567.37" textLength="16.96" lengthAdjust="spacingAndGlyphs">40</tspan><tspan x="586.37" y="175.53" textLength="5.05" lengthAdjust="spacingAndGlyphs" font-size="10.2" stroke-width="0.25">°</tspan> <tspan x="595.90" y="182.50" textLength="10.81" lengthAdjust="spacingAndGlyphs">N</tspan></text>
<text y="197.50" font-size="12.2" font-weight="700" fill="#262626" stroke="#262626" stroke-width="0.4" stroke-linejoin="round" transform="rotate(0.03 586 198)"><tspan x="567.25" textLength="16.92" lengthAdjust="spacingAndGlyphs">38</tspan><tspan x="586.37" y="190.53" textLength="5.05" lengthAdjust="spacingAndGlyphs" font-size="10.2" stroke-width="0.25">°</tspan> <tspan x="595.90" y="197.50" textLength="10.81" lengthAdjust="spacingAndGlyphs">N</tspan></text>
<text y="214.60" font-size="12.2" font-weight="700" fill="#262626" stroke="#262626" stroke-width="0.4" stroke-linejoin="round" transform="rotate(0.03 586 215)"><tspan x="567.25" textLength="17.00" lengthAdjust="spacingAndGlyphs">36</tspan><tspan x="586.37" y="207.63" textLength="5.05" lengthAdjust="spacingAndGlyphs" font-size="10.2" stroke-width="0.25">°</tspan> <tspan x="595.90" y="214.60" textLength="10.81" lengthAdjust="spacingAndGlyphs">N</tspan></text>
<text y="228.40" font-size="12.2" font-weight="700" fill="#262626" stroke="#262626" stroke-width="0.4" stroke-linejoin="round" transform="rotate(0.03 586 229)"><tspan x="567.26" textLength="16.52" lengthAdjust="spacingAndGlyphs">34</tspan><tspan x="586.37" y="221.43" textLength="5.05" lengthAdjust="spacingAndGlyphs" font-size="10.2" stroke-width="0.25">°</tspan> <tspan x="595.90" y="228.40" textLength="10.81" lengthAdjust="spacingAndGlyphs">N</tspan></text>
<text y="245.40" font-size="12.2" font-weight="700" fill="#262626" stroke="#262626" stroke-width="0.4" stroke-linejoin="round" transform="rotate(0.03 586 246)"><tspan x="567.25" textLength="17.07" lengthAdjust="spacingAndGlyphs">32</tspan><tspan x="586.37" y="238.43" textLength="5.05" lengthAdjust="spacingAndGlyphs" font-size="10.2" stroke-width="0.25">°</tspan> <tspan x="595.90" y="245.40" textLength="10.81" lengthAdjust="spacingAndGlyphs">N</tspan></text>
<text y="259.40" font-size="12.2" font-weight="700" fill="#262626" stroke="#262626" stroke-width="0.4" stroke-linejoin="round" transform="rotate(0.03 586 260)"><tspan x="567.25" textLength="17.08" lengthAdjust="spacingAndGlyphs">30</tspan><tspan x="586.37" y="252.43" textLength="5.05" lengthAdjust="spacingAndGlyphs" font-size="10.2" stroke-width="0.25">°</tspan> <tspan x="595.90" y="259.40" textLength="10.81" lengthAdjust="spacingAndGlyphs">N</tspan></text>
<text y="272.50" font-size="12.2" font-weight="700" fill="#262626" stroke="#262626" stroke-width="0.4" stroke-linejoin="round" transform="rotate(0.03 586 273)"><tspan x="567.07" textLength="17.11" lengthAdjust="spacingAndGlyphs">28</tspan><tspan x="586.37" y="265.53" textLength="5.05" lengthAdjust="spacingAndGlyphs" font-size="10.2" stroke-width="0.25">°</tspan> <tspan x="595.90" y="272.50" textLength="10.81" lengthAdjust="spacingAndGlyphs">N</tspan></text>
<text y="287.50" font-size="12.2" font-weight="700" fill="#262626" stroke="#262626" stroke-width="0.4" stroke-linejoin="round" transform="rotate(0.03 586 288)"><tspan x="567.06" textLength="17.20" lengthAdjust="spacingAndGlyphs">26</tspan><tspan x="586.37" y="280.53" textLength="5.05" lengthAdjust="spacingAndGlyphs" font-size="10.2" stroke-width="0.25">°</tspan> <tspan x="595.90" y="287.50" textLength="10.81" lengthAdjust="spacingAndGlyphs">N</tspan></text>
<text y="301.50" font-size="12.2" font-weight="700" fill="#262626" stroke="#262626" stroke-width="0.4" stroke-linejoin="round" transform="rotate(0.03 586 302)"><tspan x="567.08" textLength="16.70" lengthAdjust="spacingAndGlyphs">24</tspan><tspan x="586.37" y="294.53" textLength="5.05" lengthAdjust="spacingAndGlyphs" font-size="10.2" stroke-width="0.25">°</tspan> <tspan x="595.90" y="301.50" textLength="10.81" lengthAdjust="spacingAndGlyphs">N</tspan></text>
<text y="314.50" font-size="12.2" font-weight="700" fill="#262626" stroke="#262626" stroke-width="0.4" stroke-linejoin="round" transform="rotate(0.03 586 315)"><tspan x="567.06" textLength="17.26" lengthAdjust="spacingAndGlyphs">22</tspan><tspan x="586.37" y="307.53" textLength="5.05" lengthAdjust="spacingAndGlyphs" font-size="10.2" stroke-width="0.25">°</tspan> <tspan x="595.90" y="314.50" textLength="10.81" lengthAdjust="spacingAndGlyphs">N</tspan></text>
<text y="340.45" font-size="21.2" font-weight="700" fill="#262626" stroke="#262626" stroke-width="0.7" stroke-linejoin="round" transform="rotate(0.03 728 341)"><tspan x="561.12" textLength="48.60" lengthAdjust="spacingAndGlyphs">SAT</tspan> <tspan x="618.99" textLength="46.20" lengthAdjust="spacingAndGlyphs">200</tspan> <tspan x="673.60" textLength="45.89" lengthAdjust="spacingAndGlyphs">hPa</tspan> <tspan x="730.75" textLength="34.51" lengthAdjust="spacingAndGlyphs">RH</tspan> <tspan x="776.49" textLength="118.73" lengthAdjust="spacingAndGlyphs">(Percent)</tspan></text>
<text y="100.80" font-size="21.2" font-weight="700" fill="#262626" stroke="#262626" stroke-width="0.7" stroke-linejoin="round" transform="rotate(0.03 1328 101)"><tspan x="1317.41" textLength="43.30" lengthAdjust="spacingAndGlyphs">100</tspan></text>
<text y="209.80" font-size="21.2" font-weight="700" fill="#262626" stroke="#262626" stroke-width="0.7" stroke-linejoin="round" transform="rotate(0.03 1328 210)"><tspan x="1318.00" textLength="27.15" lengthAdjust="spacingAndGlyphs">50</tspan></text>
<text y="319.80" font-size="21.2" font-weight="700" fill="#262626" stroke="#262626" stroke-width="0.7" stroke-linejoin="round" transform="rotate(0.03 1328 320)"><tspan x="1317.35" textLength="14.03" lengthAdjust="spacingAndGlyphs">0</tspan></text>
<text y="74.60" font-size="12.2" font-weight="700" fill="#262626" stroke="#262626" stroke-width="0.4" stroke-linejoin="round" transform="rotate(0.03 1080 75)"><tspan x="1059.24" textLength="25.38" lengthAdjust="spacingAndGlyphs">100</tspan><tspan x="1085.27" y="68.03" textLength="5.05" lengthAdjust="spacingAndGlyphs" font-size="10.2" stroke-width="0.25">°</tspan> <tspan x="1097.19" y="74.60" textLength="12.23" lengthAdjust="spacingAndGlyphs">W</tspan></text>
<text y="74.60" font-size="12.2" font-weight="700" fill="#262626" stroke="#262626" stroke-width="0.4" stroke-linejoin="round" transform="rotate(0.03 1148 75)"><tspan x="1127.16" textLength="17.28" lengthAdjust="spacingAndGlyphs">90</tspan><tspan x="1146.47" y="68.03" textLength="5.05" lengthAdjust="spacingAndGlyphs" font-size="10.2" stroke-width="0.25">°</tspan> <tspan x="1157.69" y="74.60" textLength="12.23" lengthAdjust="spacingAndGlyphs">W</tspan></text>
<text y="74.60" font-size="12.2" font-weight="700" fill="#262626" stroke="#262626" stroke-width="0.4" stroke-linejoin="round" transform="rotate(0.03 1211 75)"><tspan x="1190.50" textLength="17.44" lengthAdjust="spacingAndGlyphs">80</tspan><tspan x="1208.47" y="68.03" textLength="5.05" lengthAdjust="spacingAndGlyphs" font-size="10.2" stroke-width="0.25">°</tspan> <tspan x="1220.19" y="74.60" textLength="12.23" lengthAdjust="spacingAndGlyphs">W</tspan></text>
<text y="74.60" font-size="12.2" font-weight="700" fill="#262626" stroke="#262626" stroke-width="0.4" stroke-linejoin="round" transform="rotate(0.03 1276 75)"><tspan x="1255.58" textLength="16.01" lengthAdjust="spacingAndGlyphs">70</tspan><tspan x="1273.47" y="68.03" textLength="5.05" lengthAdjust="spacingAndGlyphs" font-size="10.2" stroke-width="0.25">°</tspan> <tspan x="1285.19" y="74.60" textLength="12.23" lengthAdjust="spacingAndGlyphs">W</tspan></text>
<text y="112.50" font-size="12.2" font-weight="700" fill="#262626" stroke="#262626" stroke-width="0.4" stroke-linejoin="round" transform="rotate(0.03 1007 113)"><tspan x="988.37" textLength="16.79" lengthAdjust="spacingAndGlyphs">48</tspan><tspan x="1007.37" y="105.53" textLength="5.05" lengthAdjust="spacingAndGlyphs" font-size="10.2" stroke-width="0.25">°</tspan> <tspan x="1016.90" y="112.50" textLength="10.81" lengthAdjust="spacingAndGlyphs">N</tspan></text>
<text y="130.20" font-size="12.2" font-weight="700" fill="#262626" stroke="#262626" stroke-width="0.4" stroke-linejoin="round" transform="rotate(0.03 1007 130)"><tspan x="988.37" textLength="16.88" lengthAdjust="spacingAndGlyphs">46</tspan><tspan x="1007.37" y="123.23" textLength="5.05" lengthAdjust="spacingAndGlyphs" font-size="10.2" stroke-width="0.25">°</tspan> <tspan x="1016.90" y="130.20" textLength="10.81" lengthAdjust="spacingAndGlyphs">N</tspan></text>
<text y="147.40" font-size="12.2" font-weight="700" fill="#262626" stroke="#262626" stroke-width="0.4" stroke-linejoin="round" transform="rotate(0.03 1007 148)"><tspan x="988.38" textLength="16.40" lengthAdjust="spacingAndGlyphs">44</tspan><tspan x="1007.37" y="140.43" textLength="5.05" lengthAdjust="spacingAndGlyphs" font-size="10.2" stroke-width="0.25">°</tspan> <tspan x="1016.90" y="147.40" textLength="10.81" lengthAdjust="spacingAndGlyphs">N</tspan></text>
<text y="166.50" font-size="12.2" font-weight="700" fill="#262626" stroke="#262626" stroke-width="0.4" stroke-linejoin="round" transform="rotate(0.03 1007 167)"><tspan x="988.37" textLength="16.94" lengthAdjust="spacingAndGlyphs">42</tspan><tspan x="1007.37" y="159.53" textLength="5.05" lengthAdjust="spacingAndGlyphs" font-size="10.2" stroke-width="0.25">°</tspan> <tspan x="1016.90" y="166.50" textLength="10.81" lengthAdjust="spacingAndGlyphs">N</tspan></text>
<text y="182.50" font-size="12.2" font-weight="700" fill="#262626" stroke="#262626" stroke-width="0.4" stroke-linejoin="round" transform="rotate(0.03 1007 183)"><tspan x="988.37" textLength="16.96" lengthAdjust="spacingAndGlyphs">40</tspan><tspan x="1007.37" y="175.53" textLength="5.05" lengthAdjust="spacingAndGlyphs" font-size="10.2" stroke-width="0.25">°</tspan> <tspan x="1016.90" y="182.50" textLength="10.81" lengthAdjust="spacingAndGlyphs">N</tspan></text>
<text y="197.50" font-size="12.2" font-weight="700" fill="#262626" stroke="#262626" stroke-width="0.4" stroke-linejoin="round" transform="rotate(0.03 1007 198)"><tspan x="988.25" textLength="16.92" lengthAdjust="spacingAndGlyphs">38</tspan><tspan x="1007.37" y="190.53" textLength="5.05" lengthAdjust="spacingAndGlyphs" font-size="10.2" stroke-width="0.25">°</tspan> <tspan x="1016.90" y="197.50" textLength="10.81" lengthAdjust="spacingAndGlyphs">N</tspan></text>
<text y="214.60" font-size="12.2" font-weight="700" fill="#262626" stroke="#262626" stroke-width="0.4" stroke-linejoin="round" transform="rotate(0.03 1007 215)"><tspan x="988.25" textLength="17.00" lengthAdjust="spacingAndGlyphs">36</tspan><tspan x="1007.37" y="207.63" textLength="5.05" lengthAdjust="spacingAndGlyphs" font-size="10.2" stroke-width="0.25">°</tspan> <tspan x="1016.90" y="214.60" textLength="10.81" lengthAdjust="spacingAndGlyphs">N</tspan></text>
<text y="228.40" font-size="12.2" font-weight="700" fill="#262626" stroke="#262626" stroke-width="0.4" stroke-linejoin="round" transform="rotate(0.03 1007 229)"><tspan x="988.26" textLength="16.52" lengthAdjust="spacingAndGlyphs">34</tspan><tspan x="1007.37" y="221.43" textLength="5.05" lengthAdjust="spacingAndGlyphs" font-size="10.2" stroke-width="0.25">°</tspan> <tspan x="1016.90" y="228.40" textLength="10.81" lengthAdjust="spacingAndGlyphs">N</tspan></text>
<text y="245.40" font-size="12.2" font-weight="700" fill="#262626" stroke="#262626" stroke-width="0.4" stroke-linejoin="round" transform="rotate(0.03 1007 246)"><tspan x="988.25" textLength="17.07" lengthAdjust="spacingAndGlyphs">32</tspan><tspan x="1007.37" y="238.43" textLength="5.05" lengthAdjust="spacingAndGlyphs" font-size="10.2" stroke-width="0.25">°</tspan> <tspan x="1016.90" y="245.40" textLength="10.81" lengthAdjust="spacingAndGlyphs">N</tspan></text>
<text y="259.40" font-size="12.2" font-weight="700" fill="#262626" stroke="#262626" stroke-width="0.4" stroke-linejoin="round" transform="rotate(0.03 1007 260)"><tspan x="988.25" textLength="17.08" lengthAdjust="spacingAndGlyphs">30</tspan><tspan x="1007.37" y="252.43" textLength="5.05" lengthAdjust="spacingAndGlyphs" font-size="10.2" stroke-width="0.25">°</tspan> <tspan x="1016.90" y="259.40" textLength="10.81" lengthAdjust="spacingAndGlyphs">N</tspan></text>
<text y="274.00" font-size="12.2" font-weight="700" fill="#262626" stroke="#262626" stroke-width="0.4" stroke-linejoin="round" transform="rotate(0.03 1007 274)"><tspan x="988.07" textLength="17.11" lengthAdjust="spacingAndGlyphs">28</tspan><tspan x="1007.37" y="267.03" textLength="5.05" lengthAdjust="spacingAndGlyphs" font-size="10.2" stroke-width="0.25">°</tspan> <tspan x="1016.90" y="274.00" textLength="10.81" lengthAdjust="spacingAndGlyphs">N</tspan></text>
<text y="289.30" font-size="12.2" font-weight="700" fill="#262626" stroke="#262626" stroke-width="0.4" stroke-linejoin="round" transform="rotate(0.03 1007 290)"><tspan x="988.06" textLength="17.20" lengthAdjust="spacingAndGlyphs">26</tspan><tspan x="1007.37" y="282.33" textLength="5.05" lengthAdjust="spacingAndGlyphs" font-size="10.2" stroke-width="0.25">°</tspan> <tspan x="1016.90" y="289.30" textLength="10.81" lengthAdjust="spacingAndGlyphs">N</tspan></text>
<text y="301.50" font-size="12.2" font-weight="700" fill="#262626" stroke="#262626" stroke-width="0.4" stroke-linejoin="round" transform="rotate(0.03 1007 302)"><tspan x="988.08" textLength="16.70" lengthAdjust="spacingAndGlyphs">24</tspan><tspan x="1007.37" y="294.53" textLength="5.05" lengthAdjust="spacingAndGlyphs" font-size="10.2" stroke-width="0.25">°</tspan> <tspan x="1016.90" y="301.50" textLength="10.81" lengthAdjust="spacingAndGlyphs">N</tspan></text>
<text y="316.50" font-size="12.2" font-weight="700" fill="#262626" stroke="#262626" stroke-width="0.4" stroke-linejoin="round" transform="rotate(0.03 1007 317)"><tspan x="988.06" textLength="17.26" lengthAdjust="spacingAndGlyphs">22</tspan><tspan x="1007.37" y="309.53" textLength="5.05" lengthAdjust="spacingAndGlyphs" font-size="10.2" stroke-width="0.25">°</tspan> <tspan x="1016.90" y="316.50" textLength="10.81" lengthAdjust="spacingAndGlyphs">N</tspan></text>
<text y="341.45" font-size="21.2" font-weight="700" fill="#262626" stroke="#262626" stroke-width="0.7" stroke-linejoin="round" transform="rotate(0.03 1150 342)"><tspan x="983.12" textLength="48.60" lengthAdjust="spacingAndGlyphs">SAT</tspan> <tspan x="1040.99" textLength="46.20" lengthAdjust="spacingAndGlyphs">250</tspan> <tspan x="1095.60" textLength="45.89" lengthAdjust="spacingAndGlyphs">hPa</tspan> <tspan x="1152.75" textLength="34.51" lengthAdjust="spacingAndGlyphs">RH</tspan> <tspan x="1198.49" textLength="118.73" lengthAdjust="spacingAndGlyphs">(Percent)</tspan></text>
<text y="490.80" font-size="21.2" font-weight="700" fill="#262626" stroke="#262626" stroke-width="0.7" stroke-linejoin="round" transform="rotate(0.03 484 491)"><tspan x="473.51" textLength="43.30" lengthAdjust="spacingAndGlyphs">100</tspan></text>
<text y="599.80" font-size="21.2" font-weight="700" fill="#262626" stroke="#262626" stroke-width="0.7" stroke-linejoin="round" transform="rotate(0.03 484 600)"><tspan x="474.10" textLength="27.15" lengthAdjust="spacingAndGlyphs">50</tspan></text>
<text y="708.90" font-size="21.2" font-weight="700" fill="#262626" stroke="#262626" stroke-width="0.7" stroke-linejoin="round" transform="rotate(0.03 484 709)"><tspan x="473.45" textLength="14.03" lengthAdjust="spacingAndGlyphs">0</tspan></text>
<text y="466.60" font-size="12.2" font-weight="700" fill="#262626" stroke="#262626" stroke-width="0.4" stroke-linejoin="round" transform="rotate(0.03 236 467)"><tspan x="215.24" textLength="25.38" lengthAdjust="spacingAndGlyphs">100</tspan><tspan x="242.47" y="460.03" textLength="5.05" lengthAdjust="spacingAndGlyphs" font-size="10.2" stroke-width="0.25">°</tspan> <tspan x="253.19" y="466.60" textLength="12.23" lengthAdjust="spacingAndGlyphs">W</tspan></text>
<text y="466.60" font-size="12.2" font-weight="700" fill="#262626" stroke="#262626" stroke-width="0.4" stroke-linejoin="round" transform="rotate(0.03 304 467)"><tspan x="284.19" textLength="16.20" lengthAdjust="spacingAndGlyphs">90</tspan><tspan x="302.47" y="460.03" textLength="5.05" lengthAdjust="spacingAndGlyphs" font-size="10.2" stroke-width="0.25">°</tspan> <tspan x="314.19" y="466.60" textLength="12.23" lengthAdjust="spacingAndGlyphs">W</tspan></text>
<text y="466.60" font-size="12.2" font-weight="700" fill="#262626" stroke="#262626" stroke-width="0.4" stroke-linejoin="round" transform="rotate(0.03 368 467)"><tspan x="348.20" textLength="17.44" lengthAdjust="spacingAndGlyphs">80</tspan><tspan x="367.47" y="460.03" textLength="5.05" lengthAdjust="spacingAndGlyphs" font-size="10.2" stroke-width="0.25">°</tspan> <tspan x="378.19" y="466.60" textLength="12.23" lengthAdjust="spacingAndGlyphs">W</tspan></text>
<text y="466.60" font-size="12.2" font-weight="700" fill="#262626" stroke="#262626" stroke-width="0.4" stroke-linejoin="round" transform="rotate(0.03 432 467)"><tspan x="411.79" textLength="15.79" lengthAdjust="spacingAndGlyphs">70</tspan><tspan x="429.47" y="460.03" textLength="5.05" lengthAdjust="spacingAndGlyphs" font-size="10.2" stroke-width="0.25">°</tspan> <tspan x="441.19" y="466.60" textLength="12.23" lengthAdjust="spacingAndGlyphs">W</tspan></text>
<text y="501.40" font-size="12.2" font-weight="700" fill="#262626" stroke="#262626" stroke-width="0.4" stroke-linejoin="round" transform="rotate(0.03 165 502)"><tspan x="146.37" textLength="16.79" lengthAdjust="spacingAndGlyphs">48</tspan><tspan x="165.37" y="494.43" textLength="5.05" lengthAdjust="spacingAndGlyphs" font-size="10.2" stroke-width="0.25">°</tspan> <tspan x="174.90" y="501.40" textLength="10.81" lengthAdjust="spacingAndGlyphs">N</tspan></text>
<text y="520.20" font-size="12.2" font-weight="700" fill="#262626" stroke="#262626" stroke-width="0.4" stroke-linejoin="round" transform="rotate(0.03 165 520)"><tspan x="146.37" textLength="16.88" lengthAdjust="spacingAndGlyphs">46</tspan><tspan x="165.37" y="513.23" textLength="5.05" lengthAdjust="spacingAndGlyphs" font-size="10.2" stroke-width="0.25">°</tspan> <tspan x="174.90" y="520.20" textLength="10.81" lengthAdjust="spacingAndGlyphs">N</tspan></text>
<text y="537.40" font-size="12.2" font-weight="700" fill="#262626" stroke="#262626" stroke-width="0.4" stroke-linejoin="round" transform="rotate(0.03 165 538)"><tspan x="146.38" textLength="16.40" lengthAdjust="spacingAndGlyphs">44</tspan><tspan x="165.37" y="530.43" textLength="5.05" lengthAdjust="spacingAndGlyphs" font-size="10.2" stroke-width="0.25">°</tspan> <tspan x="174.90" y="537.40" textLength="10.81" lengthAdjust="spacingAndGlyphs">N</tspan></text>
<text y="555.40" font-size="12.2" font-weight="700" fill="#262626" stroke="#262626" stroke-width="0.4" stroke-linejoin="round" transform="rotate(0.03 165 556)"><tspan x="146.37" textLength="16.94" lengthAdjust="spacingAndGlyphs">42</tspan><tspan x="165.37" y="548.43" textLength="5.05" lengthAdjust="spacingAndGlyphs" font-size="10.2" stroke-width="0.25">°</tspan> <tspan x="174.90" y="555.40" textLength="10.81" lengthAdjust="spacingAndGlyphs">N</tspan></text>
<text y="572.50" font-size="12.2" font-weight="700" fill="#262626" stroke="#262626" stroke-width="0.4" stroke-linejoin="round" transform="rotate(0.03 165 573)"><tspan x="146.37" textLength="16.96" lengthAdjust="spacingAndGlyphs">40</tspan><tspan x="165.37" y="565.53" textLength="5.05" lengthAdjust="spacingAndGlyphs" font-size="10.2" stroke-width="0.25">°</tspan> <tspan x="174.90" y="572.50" textLength="10.81" lengthAdjust="spacingAndGlyphs">N</tspan></text>
<text y="587.50" font-size="12.2" font-weight="700" fill="#262626" stroke="#262626" stroke-width="0.4" stroke-linejoin="round" transform="rotate(0.03 165 588)"><tspan x="146.25" textLength="16.92" lengthAdjust="spacingAndGlyphs">38</tspan><tspan x="165.37" y="580.53" textLength="5.05" lengthAdjust="spacingAndGlyphs" font-size="10.2" stroke-width="0.25">°</tspan> <tspan x="174.90" y="587.50" textLength="10.81" lengthAdjust="spacingAndGlyphs">N</tspan></text>
<text y="603.50" font-size="12.2" font-weight="700" fill="#262626" stroke="#262626" stroke-width="0.4" stroke-linejoin="round" transform="rotate(0.03 165 604)"><tspan x="146.25" textLength="17.00" lengthAdjust="spacingAndGlyphs">36</tspan><tspan x="165.37" y="596.53" textLength="5.05" lengthAdjust="spacingAndGlyphs" font-size="10.2" stroke-width="0.25">°</tspan> <tspan x="174.90" y="603.50" textLength="10.81" lengthAdjust="spacingAndGlyphs">N</tspan></text>
<text y="618.40" font-size="12.2" font-weight="700" fill="#262626" stroke="#262626" stroke-width="0.4" stroke-linejoin="round" transform="rotate(0.03 165 619)"><tspan x="146.26" textLength="16.52" lengthAdjust="spacingAndGlyphs">34</tspan><tspan x="165.37" y="611.43" textLength="5.05" lengthAdjust="spacingAndGlyphs" font-size="10.2" stroke-width="0.25">°</tspan> <tspan x="174.90" y="618.40" textLength="10.81" lengthAdjust="spacingAndGlyphs">N</tspan></text>
<text y="634.30" font-size="12.2" font-weight="700" fill="#262626" stroke="#262626" stroke-width="0.4" stroke-linejoin="round" transform="rotate(0.03 165 634)"><tspan x="146.25" textLength="17.07" lengthAdjust="spacingAndGlyphs">32</tspan><tspan x="165.37" y="627.33" textLength="5.05" lengthAdjust="spacingAndGlyphs" font-size="10.2" stroke-width="0.25">°</tspan> <tspan x="174.90" y="634.30" textLength="10.81" lengthAdjust="spacingAndGlyphs">N</tspan></text>
<text y="649.40" font-size="12.2" font-weight="700" fill="#262626" stroke="#262626" stroke-width="0.4" stroke-linejoin="round" transform="rotate(0.03 165 650)"><tspan x="146.25" textLength="17.08" lengthAdjust="spacingAndGlyphs">30</tspan><tspan x="165.37" y="642.43" textLength="5.05" lengthAdjust="spacingAndGlyphs" font-size="10.2" stroke-width="0.25">°</tspan> <tspan x="174.90" y="649.40" textLength="10.81" lengthAdjust="spacingAndGlyphs">N</tspan></text>
<text y="662.50" font-size="12.2" font-weight="700" fill="#262626" stroke="#262626" stroke-width="0.4" stroke-linejoin="round" transform="rotate(0.03 165 663)"><tspan x="146.07" textLength="17.11" lengthAdjust="spacingAndGlyphs">28</tspan><tspan x="165.37" y="655.53" textLength="5.05" lengthAdjust="spacingAndGlyphs" font-size="10.2" stroke-width="0.25">°</tspan> <tspan x="174.90" y="662.50" textLength="10.81" lengthAdjust="spacingAndGlyphs">N</tspan></text>
<text y="677.00" font-size="12.2" font-weight="700" fill="#262626" stroke="#262626" stroke-width="0.4" stroke-linejoin="round" transform="rotate(0.03 165 677)"><tspan x="146.06" textLength="17.20" lengthAdjust="spacingAndGlyphs">26</tspan><tspan x="165.37" y="670.03" textLength="5.05" lengthAdjust="spacingAndGlyphs" font-size="10.2" stroke-width="0.25">°</tspan> <tspan x="174.90" y="677.00" textLength="10.81" lengthAdjust="spacingAndGlyphs">N</tspan></text>
<text y="691.50" font-size="12.2" font-weight="700" fill="#262626" stroke="#262626" stroke-width="0.4" stroke-linejoin="round" transform="rotate(0.03 165 692)"><tspan x="146.08" textLength="16.70" lengthAdjust="spacingAndGlyphs">24</tspan><tspan x="165.37" y="684.53" textLength="5.05" lengthAdjust="spacingAndGlyphs" font-size="10.2" stroke-width="0.25">°</tspan> <tspan x="174.90" y="691.50" textLength="10.81" lengthAdjust="spacingAndGlyphs">N</tspan></text>
<text y="703.80" font-size="12.2" font-weight="700" fill="#262626" stroke="#262626" stroke-width="0.4" stroke-linejoin="round" transform="rotate(0.03 165 704)"><tspan x="146.06" textLength="17.26" lengthAdjust="spacingAndGlyphs">22</tspan><tspan x="165.37" y="696.83" textLength="5.05" lengthAdjust="spacingAndGlyphs" font-size="10.2" stroke-width="0.25">°</tspan> <tspan x="174.90" y="703.80" textLength="10.81" lengthAdjust="spacingAndGlyphs">N</tspan></text>
<text y="730.45" font-size="21.2" font-weight="700" fill="#262626" stroke="#262626" stroke-width="0.7" stroke-linejoin="round" transform="rotate(0.03 308 731)"><tspan x="141.12" textLength="48.60" lengthAdjust="spacingAndGlyphs">SAT</tspan> <tspan x="199.32" textLength="45.86" lengthAdjust="spacingAndGlyphs">300</tspan> <tspan x="253.60" textLength="45.89" lengthAdjust="spacingAndGlyphs">hPa</tspan> <tspan x="310.75" textLength="34.51" lengthAdjust="spacingAndGlyphs">RH</tspan> <tspan x="356.49" textLength="118.73" lengthAdjust="spacingAndGlyphs">(Percent)</tspan></text>
<text y="490.80" font-size="21.2" font-weight="700" fill="#262626" stroke="#262626" stroke-width="0.7" stroke-linejoin="round" transform="rotate(0.03 905 491)"><tspan x="894.41" textLength="43.30" lengthAdjust="spacingAndGlyphs">100</tspan></text>
<text y="599.80" font-size="21.2" font-weight="700" fill="#262626" stroke="#262626" stroke-width="0.7" stroke-linejoin="round" transform="rotate(0.03 905 600)"><tspan x="895.00" textLength="27.15" lengthAdjust="spacingAndGlyphs">50</tspan></text>
<text y="708.90" font-size="21.2" font-weight="700" fill="#262626" stroke="#262626" stroke-width="0.7" stroke-linejoin="round" transform="rotate(0.03 905 709)"><tspan x="894.35" textLength="14.03" lengthAdjust="spacingAndGlyphs">0</tspan></text>
<text y="466.60" font-size="12.2" font-weight="700" fill="#262626" stroke="#262626" stroke-width="0.4" stroke-linejoin="round" transform="rotate(0.03 657 467)"><tspan x="636.24" textLength="25.38" lengthAdjust="spacingAndGlyphs">100</tspan><tspan x="663.47" y="460.03" textLength="5.05" lengthAdjust="spacingAndGlyphs" font-size="10.2" stroke-width="0.25">°</tspan> <tspan x="674.19" y="466.60" textLength="12.23" lengthAdjust="spacingAndGlyphs">W</tspan></text>
<text y="466.60" font-size="12.2" font-weight="700" fill="#262626" stroke="#262626" stroke-width="0.4" stroke-linejoin="round" transform="rotate(0.03 726 467)"><tspan x="705.19" textLength="16.20" lengthAdjust="spacingAndGlyphs">90</tspan><tspan x="723.47" y="460.03" textLength="5.05" lengthAdjust="spacingAndGlyphs" font-size="10.2" stroke-width="0.25">°</tspan> <tspan x="735.19" y="466.60" textLength="12.23" lengthAdjust="spacingAndGlyphs">W</tspan></text>
<text y="466.60" font-size="12.2" font-weight="700" fill="#262626" stroke="#262626" stroke-width="0.4" stroke-linejoin="round" transform="rotate(0.03 790 467)"><tspan x="769.20" textLength="17.44" lengthAdjust="spacingAndGlyphs">80</tspan><tspan x="788.47" y="460.03" textLength="5.05" lengthAdjust="spacingAndGlyphs" font-size="10.2" stroke-width="0.25">°</tspan> <tspan x="799.19" y="466.60" textLength="12.23" lengthAdjust="spacingAndGlyphs">W</tspan></text>
<text y="466.60" font-size="12.2" font-weight="700" fill="#262626" stroke="#262626" stroke-width="0.4" stroke-linejoin="round" transform="rotate(0.03 853 467)"><tspan x="832.79" textLength="15.79" lengthAdjust="spacingAndGlyphs">70</tspan><tspan x="850.47" y="460.03" textLength="5.05" lengthAdjust="spacingAndGlyphs" font-size="10.2" stroke-width="0.25">°</tspan> <tspan x="862.19" y="466.60" textLength="12.23" lengthAdjust="spacingAndGlyphs">W</tspan></text>
<text y="501.40" font-size="12.2" font-weight="700" fill="#262626" stroke="#262626" stroke-width="0.4" stroke-linejoin="round" transform="rotate(0.03 586 502)"><tspan x="567.37" textLength="16.79" lengthAdjust="spacingAndGlyphs">48</tspan><tspan x="586.37" y="494.43" textLength="5.05" lengthAdjust="spacingAndGlyphs" font-size="10.2" stroke-width="0.25">°</tspan> <tspan x="595.90" y="501.40" textLength="10.81" lengthAdjust="spacingAndGlyphs">N</tspan></text>
<text y="520.20" font-size="12.2" font-weight="700" fill="#262626" stroke="#262626" stroke-width="0.4" stroke-linejoin="round" transform="rotate(0.03 586 520)"><tspan x="567.37" textLength="16.88" lengthAdjust="spacingAndGlyphs">46</tspan><tspan x="586.37" y="513.23" textLength="5.05" lengthAdjust="spacingAndGlyphs" font-size="10.2" stroke-width="0.25">°</tspan> <tspan x="595.90" y="520.20" textLength="10.81" lengthAdjust="spacingAndGlyphs">N</tspan></text>
<text y="537.40" font-size="12.2" font-weight="700" fill="#262626" stroke="#262626" stroke-width="0.4" stroke-linejoin="round" transform="rotate(0.03 586 538)"><tspan x="567.38" textLength="16.40" lengthAdjust="spacingAndGlyphs">44</tspan><tspan x="586.37" y="530.43" textLength="5.05" lengthAdjust="spacingAndGlyphs" font-size="10.2" stroke-width="0.25">°</tspan> <tspan x="595.90" y="537.40" textLength="10.81" lengthAdjust="spacingAndGlyphs">N</tspan></text>
<text y="555.40" font-size="12.2" font-weight="700" fill="#262626" stroke="#262626" stroke-width="0.4" stroke-linejoin="round" transform="rotate(0.03 586 556)"><tspan x="567.37" textLength="16.94" lengthAdjust="spacingAndGlyphs">42</tspan><tspan x="586.37" y="548.43" textLength="5.05" lengthAdjust="spacingAndGlyphs" font-size="10.2" stroke-width="0.25">°</tspan> <tspan x="595.90" y="555.40" textLength="10.81" lengthAdjust="spacingAndGlyphs">N</tspan></text>
<text y="572.50" font-size="12.2" font-weight="700" fill="#262626" stroke="#262626" stroke-width="0.4" stroke-linejoin="round" transform="rotate(0.03 586 573)"><tspan x="567.37" textLength="16.96" lengthAdjust="spacingAndGlyphs">40</tspan><tspan x="586.37" y="565.53" textLength="5.05" lengthAdjust="spacingAndGlyphs" font-size="10.2" stroke-width="0.25">°</tspan> <tspan x="595.90" y="572.50" textLength="10.81" lengthAdjust="spacingAndGlyphs">N</tspan></text>
<text y="587.50" font-size="12.2" font-weight="700" fill="#262626" stroke="#262626" stroke-width="0.4" stroke-linejoin="round" transform="rotate(0.03 586 588)"><tspan x="567.25" textLength="16.92" lengthAdjust="spacingAndGlyphs">38</tspan><tspan x="586.37" y="580.53" textLength="5.05" lengthAdjust="spacingAndGlyphs" font-size="10.2" stroke-width="0.25">°</tspan> <tspan x="595.90" y="587.50" textLength="10.81" lengthAdjust="spacingAndGlyphs">N</tspan></text>
<text y="603.50" font-size="12.2" font-weight="700" fill="#262626" stroke="#262626" stroke-width="0.4" stroke-linejoin="round" transform="rotate(0.03 586 604)"><tspan x="567.25" textLength="17.00" lengthAdjust="spacingAndGlyphs">36</tspan><tspan x="586.37" y="596.53" textLength="5.05" lengthAdjust="spacingAndGlyphs" font-size="10.2" stroke-width="0.25">°</tspan> <tspan x="595.90" y="603.50" textLength="10.81" lengthAdjust="spacingAndGlyphs">N</tspan></text>
<text y="618.40" font-size="12.2" font-weight="700" fill="#262626" stroke="#262626" stroke-width="0.4" stroke-linejoin="round" transform="rotate(0.03 586 619)"><tspan x="567.26" textLength="16.52" lengthAdjust="spacingAndGlyphs">34</tspan><tspan x="586.37" y="611.43" textLength="5.05" lengthAdjust="spacingAndGlyphs" font-size="10.2" stroke-width="0.25">°</tspan> <tspan x="595.90" y="618.40" textLength="10.81" lengthAdjust="spacingAndGlyphs">N</tspan></text>
<text y="634.30" font-size="12.2" font-weight="700" fill="#262626" stroke="#262626" stroke-width="0.4" stroke-linejoin="round" transform="rotate(0.03 586 634)"><tspan x="567.25" textLength="17.07" lengthAdjust="spacingAndGlyphs">32</tspan><tspan x="586.37" y="627.33" textLength="5.05" lengthAdjust="spacingAndGlyphs" font-size="10.2" stroke-width="0.25">°</tspan> <tspan x="595.90" y="634.30" textLength="10.81" lengthAdjust="spacingAndGlyphs">N</tspan></text>
<text y="649.40" font-size="12.2" font-weight="700" fill="#262626" stroke="#262626" stroke-width="0.4" stroke-linejoin="round" transform="rotate(0.03 586 650)"><tspan x="567.25" textLength="17.08" lengthAdjust="spacingAndGlyphs">30</tspan><tspan x="586.37" y="642.43" textLength="5.05" lengthAdjust="spacingAndGlyphs" font-size="10.2" stroke-width="0.25">°</tspan> <tspan x="595.90" y="649.40" textLength="10.81" lengthAdjust="spacingAndGlyphs">N</tspan></text>
<text y="662.50" font-size="12.2" font-weight="700" fill="#262626" stroke="#262626" stroke-width="0.4" stroke-linejoin="round" transform="rotate(0.03 586 663)"><tspan x="567.07" textLength="17.11" lengthAdjust="spacingAndGlyphs">28</tspan><tspan x="586.37" y="655.53" textLength="5.05" lengthAdjust="spacingAndGlyphs" font-size="10.2" stroke-width="0.25">°</tspan> <tspan x="595.90" y="662.50" textLength="10.81" lengthAdjust="spacingAndGlyphs">N</tspan></text>
<text y="677.00" font-size="12.2" font-weight="700" fill="#262626" stroke="#262626" stroke-width="0.4" stroke-linejoin="round" transform="rotate(0.03 586 677)"><tspan x="567.06" textLength="17.20" lengthAdjust="spacingAndGlyphs">26</tspan><tspan x="586.37" y="670.03" textLength="5.05" lengthAdjust="spacingAndGlyphs" font-size="10.2" stroke-width="0.25">°</tspan> <tspan x="595.90" y="677.00" textLength="10.81" lengthAdjust="spacingAndGlyphs">N</tspan></text>
<text y="691.50" font-size="12.2" font-weight="700" fill="#262626" stroke="#262626" stroke-width="0.4" stroke-linejoin="round" transform="rotate(0.03 586 692)"><tspan x="567.08" textLength="16.70" lengthAdjust="spacingAndGlyphs">24</tspan><tspan x="586.37" y="684.53" textLength="5.05" lengthAdjust="spacingAndGlyphs" font-size="10.2" stroke-width="0.25">°</tspan> <tspan x="595.90" y="691.50" textLength="10.81" lengthAdjust="spacingAndGlyphs">N</tspan></text>
<text y="703.80" font-size="12.2" font-weight="700" fill="#262626" stroke="#262626" stroke-width="0.4" stroke-linejoin="round" transform="rotate(0.03 586 704)"><tspan x="567.06" textLength="17.26" lengthAdjust="spacingAndGlyphs">22</tspan><tspan x="586.37" y="696.83" textLength="5.05" lengthAdjust="spacingAndGlyphs" font-size="10.2" stroke-width="0.25">°</tspan> <tspan x="595.90" y="703.80" textLength="10.81" lengthAdjust="spacingAndGlyphs">N</tspan></text>
<text y="730.45" font-size="21.2" font-weight="700" fill="#262626" stroke="#262626" stroke-width="0.7" stroke-linejoin="round" transform="rotate(0.03 728 731)"><tspan x="561.12" textLength="48.60" lengthAdjust="spacingAndGlyphs">SAT</tspan> <tspan x="619.32" textLength="45.86" lengthAdjust="spacingAndGlyphs">350</tspan> <tspan x="673.60" textLength="45.89" lengthAdjust="spacingAndGlyphs">hPa</tspan> <tspan x="730.75" textLength="34.51" lengthAdjust="spacingAndGlyphs">RH</tspan> <tspan x="776.49" textLength="118.73" lengthAdjust="spacingAndGlyphs">(Percent)</tspan></text>
<text y="490.80" font-size="21.2" font-weight="700" fill="#262626" stroke="#262626" stroke-width="0.7" stroke-linejoin="round" transform="rotate(0.03 1328 491)"><tspan x="1317.41" textLength="43.30" lengthAdjust="spacingAndGlyphs">100</tspan></text>
<text y="599.80" font-size="21.2" font-weight="700" fill="#262626" stroke="#262626" stroke-width="0.7" stroke-linejoin="round" transform="rotate(0.03 1328 600)"><tspan x="1318.00" textLength="27.15" lengthAdjust="spacingAndGlyphs">50</tspan></text>
<text y="708.90" font-size="21.2" font-weight="700" fill="#262626" stroke="#262626" stroke-width="0.7" stroke-linejoin="round" transform="rotate(0.03 1328 709)"><tspan x="1317.35" textLength="14.03" lengthAdjust="spacingAndGlyphs">0</tspan></text>
<text y="464.60" font-size="12.2" font-weight="700" fill="#262626" stroke="#262626" stroke-width="0.4" stroke-linejoin="round" transform="rotate(0.03 1080 465)"><tspan x="1059.24" textLength="25.38" lengthAdjust="spacingAndGlyphs">100</tspan><tspan x="1085.27" y="458.03" textLength="5.05" lengthAdjust="spacingAndGlyphs" font-size="10.2" stroke-width="0.25">°</tspan> <tspan x="1097.19" y="464.60" textLength="12.23" lengthAdjust="spacingAndGlyphs">W</tspan></text>
<text y="464.60" font-size="12.2" font-weight="700" fill="#262626" stroke="#262626" stroke-width="0.4" stroke-linejoin="round" transform="rotate(0.03 1148 465)"><tspan x="1127.16" textLength="17.28" lengthAdjust="spacingAndGlyphs">90</tspan><tspan x="1146.47" y="458.03" textLength="5.05" lengthAdjust="spacingAndGlyphs" font-size="10.2" stroke-width="0.25">°</tspan> <tspan x="1157.69" y="464.60" textLength="12.23" lengthAdjust="spacingAndGlyphs">W</tspan></text>
<text y="464.60" font-size="12.2" font-weight="700" fill="#262626" stroke="#262626" stroke-width="0.4" stroke-linejoin="round" transform="rotate(0.03 1211 465)"><tspan x="1190.50" textLength="17.44" lengthAdjust="spacingAndGlyphs">80</tspan><tspan x="1208.47" y="458.03" textLength="5.05" lengthAdjust="spacingAndGlyphs" font-size="10.2" stroke-width="0.25">°</tspan> <tspan x="1220.19" y="464.60" textLength="12.23" lengthAdjust="spacingAndGlyphs">W</tspan></text>
<text y="464.60" font-size="12.2" font-weight="700" fill="#262626" stroke="#262626" stroke-width="0.4" stroke-linejoin="round" transform="rotate(0.03 1276 465)"><tspan x="1255.58" textLength="16.01" lengthAdjust="spacingAndGlyphs">70</tspan><tspan x="1273.47" y="458.03" textLength="5.05" lengthAdjust="spacingAndGlyphs" font-size="10.2" stroke-width="0.25">°</tspan> <tspan x="1285.19" y="464.60" textLength="12.23" lengthAdjust="spacingAndGlyphs">W</tspan></text>
<text y="501.40" font-size="12.2" font-weight="700" fill="#262626" stroke="#262626" stroke-width="0.4" stroke-linejoin="round" transform="rotate(0.03 1007 502)"><tspan x="988.37" textLength="16.79" lengthAdjust="spacingAndGlyphs">48</tspan><tspan x="1007.37" y="494.43" textLength="5.05" lengthAdjust="spacingAndGlyphs" font-size="10.2" stroke-width="0.25">°</tspan> <tspan x="1016.90" y="501.40" textLength="10.81" lengthAdjust="spacingAndGlyphs">N</tspan></text>
<text y="520.20" font-size="12.2" font-weight="700" fill="#262626" stroke="#262626" stroke-width="0.4" stroke-linejoin="round" transform="rotate(0.03 1007 520)"><tspan x="988.37" textLength="16.88" lengthAdjust="spacingAndGlyphs">46</tspan><tspan x="1007.37" y="513.23" textLength="5.05" lengthAdjust="spacingAndGlyphs" font-size="10.2" stroke-width="0.25">°</tspan> <tspan x="1016.90" y="520.20" textLength="10.81" lengthAdjust="spacingAndGlyphs">N</tspan></text>
<text y="537.40" font-size="12.2" font-weight="700" fill="#262626" stroke="#262626" stroke-width="0.4" stroke-linejoin="round" transform="rotate(0.03 1007 538)"><tspan x="988.38" textLength="16.40" lengthAdjust="spacingAndGlyphs">44</tspan><tspan x="1007.37" y="530.43" textLength="5.05" lengthAdjust="spacingAndGlyphs" font-size="10.2" stroke-width="0.25">°</tspan> <tspan x="1016.90" y="537.40" textLength="10.81" lengthAdjust="spacingAndGlyphs">N</tspan></text>
<text y="555.40" font-size="12.2" font-weight="700" fill="#262626" stroke="#262626" stroke-width="0.4" stroke-linejoin="round" transform="rotate(0.03 1007 556)"><tspan x="988.37" textLength="16.94" lengthAdjust="spacingAndGlyphs">42</tspan><tspan x="1007.37" y="548.43" textLength="5.05" lengthAdjust="spacingAndGlyphs" font-size="10.2" stroke-width="0.25">°</tspan> <tspan x="1016.90" y="555.40" textLength="10.81" lengthAdjust="spacingAndGlyphs">N</tspan></text>
<text y="572.50" font-size="12.2" font-weight="700" fill="#262626" stroke="#262626" stroke-width="0.4" stroke-linejoin="round" transform="rotate(0.03 1007 573)"><tspan x="988.37" textLength="16.96" lengthAdjust="spacingAndGlyphs">40</tspan><tspan x="1007.37" y="565.53" textLength="5.05" lengthAdjust="spacingAndGlyphs" font-size="10.2" stroke-width="0.25">°</tspan> <tspan x="1016.90" y="572.50" textLength="10.81" lengthAdjust="spacingAndGlyphs">N</tspan></text>
<text y="587.50" font-size="12.2" font-weight="700" fill="#262626" stroke="#262626" stroke-width="0.4" stroke-linejoin="round" transform="rotate(0.03 1007 588)"><tspan x="988.25" textLength="16.92" lengthAdjust="spacingAndGlyphs">38</tspan><tspan x="1007.37" y="580.53" textLength="5.05" lengthAdjust="spacingAndGlyphs" font-size="10.2" stroke-width="0.25">°</tspan> <tspan x="1016.90" y="587.50" textLength="10.81" lengthAdjust="spacingAndGlyphs">N</tspan></text>
<text y="603.50" font-size="12.2" font-weight="700" fill="#262626" stroke="#262626" stroke-width="0.4" stroke-linejoin="round" transform="rotate(0.03 1007 604)"><tspan x="988.25" textLength="17.00" lengthAdjust="spacingAndGlyphs">36</tspan><tspan x="1007.37" y="596.53" textLength="5.05" lengthAdjust="spacingAndGlyphs" font-size="10.2" stroke-width="0.25">°</tspan> <tspan x="1016.90" y="603.50" textLength="10.81" lengthAdjust="spacingAndGlyphs">N</tspan></text>
<text y="618.40" font-size="12.2" font-weight="700" fill="#262626" stroke="#262626" stroke-width="0.4" stroke-linejoin="round" transform="rotate(0.03 1007 619)"><tspan x="988.26" textLength="16.52" lengthAdjust="spacingAndGlyphs">34</tspan><tspan x="1007.37" y="611.43" textLength="5.05" lengthAdjust="spacingAndGlyphs" font-size="10.2" stroke-width="0.25">°</tspan> <tspan x="1016.90" y="618.40" textLength="10.81" lengthAdjust="spacingAndGlyphs">N</tspan></text>
<text y="634.30" font-size="12.2" font-weight="700" fill="#262626" stroke="#262626" stroke-width="0.4" stroke-linejoin="round" transform="rotate(0.03 1007 634)"><tspan x="988.25" textLength="17.07" lengthAdjust="spacingAndGlyphs">32</tspan><tspan x="1007.37" y="627.33" textLength="5.05" lengthAdjust="spacingAndGlyphs" font-size="10.2" stroke-width="0.25">°</tspan> <tspan x="1016.90" y="634.30" textLength="10.81" lengthAdjust="spacingAndGlyphs">N</tspan></text>
<text y="649.40" font-size="12.2" font-weight="700" fill="#262626" stroke="#262626" stroke-width="0.4" stroke-linejoin="round" transform="rotate(0.03 1007 650)"><tspan x="988.25" textLength="17.08" lengthAdjust="spacingAndGlyphs">30</tspan><tspan x="1007.37" y="642.43" textLength="5.05" lengthAdjust="spacingAndGlyphs" font-size="10.2" stroke-width="0.25">°</tspan> <tspan x="1016.90" y="649.40" textLength="10.81" lengthAdjust="spacingAndGlyphs">N</tspan></text>
<text y="664.00" font-size="12.2" font-weight="700" fill="#262626" stroke="#262626" stroke-width="0.4" stroke-linejoin="round" transform="rotate(0.03 1007 664)"><tspan x="988.07" textLength="17.11" lengthAdjust="spacingAndGlyphs">28</tspan><tspan x="1007.37" y="657.03" textLength="5.05" lengthAdjust="spacingAndGlyphs" font-size="10.2" stroke-width="0.25">°</tspan> <tspan x="1016.90" y="664.00" textLength="10.81" lengthAdjust="spacingAndGlyphs">N</tspan></text>
<text y="678.20" font-size="12.2" font-weight="700" fill="#262626" stroke="#262626" stroke-width="0.4" stroke-linejoin="round" transform="rotate(0.03 1007 678)"><tspan x="988.06" textLength="17.20" lengthAdjust="spacingAndGlyphs">26</tspan><tspan x="1007.37" y="671.23" textLength="5.05" lengthAdjust="spacingAndGlyphs" font-size="10.2" stroke-width="0.25">°</tspan> <tspan x="1016.90" y="678.20" textLength="10.81" lengthAdjust="spacingAndGlyphs">N</tspan></text>
<text y="692.20" font-size="12.2" font-weight="700" fill="#262626" stroke="#262626" stroke-width="0.4" stroke-linejoin="round" transform="rotate(0.03 1007 692)"><tspan x="988.08" textLength="16.70" lengthAdjust="spacingAndGlyphs">24</tspan><tspan x="1007.37" y="685.23" textLength="5.05" lengthAdjust="spacingAndGlyphs" font-size="10.2" stroke-width="0.25">°</tspan> <tspan x="1016.90" y="692.20" textLength="10.81" lengthAdjust="spacingAndGlyphs">N</tspan></text>
<text y="705.60" font-size="12.2" font-weight="700" fill="#262626" stroke="#262626" stroke-width="0.4" stroke-linejoin="round" transform="rotate(0.03 1007 706)"><tspan x="988.06" textLength="17.26" lengthAdjust="spacingAndGlyphs">22</tspan><tspan x="1007.37" y="698.63" textLength="5.05" lengthAdjust="spacingAndGlyphs" font-size="10.2" stroke-width="0.25">°</tspan> <tspan x="1016.90" y="705.60" textLength="10.81" lengthAdjust="spacingAndGlyphs">N</tspan></text>
<text y="731.45" font-size="21.2" font-weight="700" fill="#262626" stroke="#262626" stroke-width="0.7" stroke-linejoin="round" transform="rotate(0.03 1150 732)"><tspan x="983.12" textLength="48.60" lengthAdjust="spacingAndGlyphs">SAT</tspan> <tspan x="1041.54" textLength="45.64" lengthAdjust="spacingAndGlyphs">400</tspan> <tspan x="1095.60" textLength="45.89" lengthAdjust="spacingAndGlyphs">hPa</tspan> <tspan x="1152.75" textLength="34.51" lengthAdjust="spacingAndGlyphs">RH</tspan> <tspan x="1198.49" textLength="118.73" lengthAdjust="spacingAndGlyphs">(Percent)</tspan></text></g>
</svg></body></html>
